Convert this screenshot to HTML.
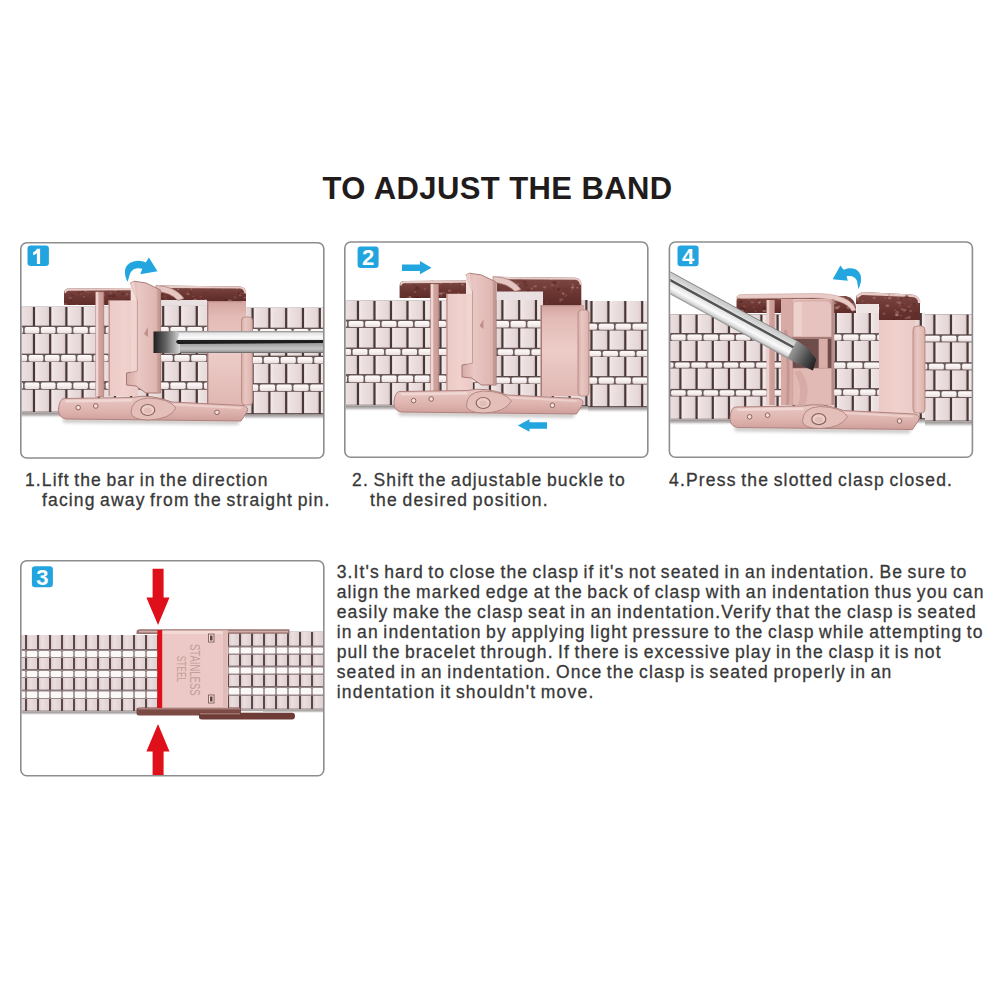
<!DOCTYPE html>
<html><head><meta charset="utf-8">
<style>
html,body{margin:0;padding:0;background:#fff;}
body{width:1000px;height:1000px;position:relative;overflow:hidden;font-family:"Liberation Sans",sans-serif;}
svg{position:absolute;left:0;top:0;}
.t{position:absolute;white-space:nowrap;color:#383838;font-size:17.5px;line-height:20px;word-spacing:-1.5px;-webkit-text-stroke:0.3px #383838;}
.title{position:absolute;white-space:nowrap;color:#221b1b;font-weight:bold;font-size:31px;line-height:34px;letter-spacing:0.41px;left:322.5px;top:171.5px;}
.badge{position:absolute;width:21px;height:21px;border-radius:3px;background:#23a6df;color:#fff;font-weight:bold;font-size:17px;line-height:21px;text-align:center;}
</style></head>
<body>
<svg width="1000" height="1000" viewBox="0 0 1000 1000"><defs>
<linearGradient id="lk" x1="0" x2="1" y1="0" y2="0"><stop offset="0" stop-color="#f4eaea"/><stop offset="0.25" stop-color="#ece0e0"/><stop offset="0.85" stop-color="#e5d7d7"/><stop offset="1" stop-color="#d6c5c5"/></linearGradient>
<linearGradient id="sl" x1="0" x2="0" y1="0" y2="1"><stop offset="0" stop-color="#fdfafa"/><stop offset="0.5" stop-color="#f7f0f0"/><stop offset="1" stop-color="#e9dddd"/></linearGradient>
<linearGradient id="lk3" x1="0" x2="1" y1="0" y2="0"><stop offset="0" stop-color="#d9c8ca"/><stop offset="0.3" stop-color="#ecdfe0"/><stop offset="1" stop-color="#dfd0d1"/></linearGradient>
<linearGradient id="pk" x1="0" x2="1" y1="0" y2="0"><stop offset="0" stop-color="#d7aba6"/><stop offset="0.35" stop-color="#e9c7c3"/><stop offset="0.85" stop-color="#dfb7b2"/><stop offset="1" stop-color="#cfa09b"/></linearGradient>
<linearGradient id="pkf" x1="0" x2="1" y1="0" y2="0"><stop offset="0" stop-color="#ecc9c5"/><stop offset="0.5" stop-color="#f0d1cd"/><stop offset="1" stop-color="#ebcac6"/></linearGradient>
<linearGradient id="pkd" x1="0" x2="1" y1="0" y2="0"><stop offset="0" stop-color="#d9aba6"/><stop offset="1" stop-color="#c99893"/></linearGradient>
<linearGradient id="pkv" x1="0" x2="0" y1="0" y2="1"><stop offset="0" stop-color="#e7c5c1"/><stop offset="0.5" stop-color="#e4bfba"/><stop offset="1" stop-color="#d3a5a0"/></linearGradient>
<linearGradient id="br" x1="0" x2="0" y1="0" y2="1"><stop offset="0" stop-color="#7e4843"/><stop offset="0.6" stop-color="#6a3531"/><stop offset="1" stop-color="#5e2c29"/></linearGradient>
<linearGradient id="sd" x1="0" x2="0" y1="0" y2="1"><stop offset="0" stop-color="#8c8c8c"/><stop offset="0.1" stop-color="#e6e6e6"/><stop offset="0.3" stop-color="#fbfbfb"/><stop offset="0.42" stop-color="#e0e0e0"/><stop offset="0.43" stop-color="#202020"/><stop offset="0.53" stop-color="#2a2a2a"/><stop offset="0.55" stop-color="#9a9a9a"/><stop offset="0.8" stop-color="#c4c4c4"/><stop offset="0.92" stop-color="#a8a8a8"/><stop offset="1" stop-color="#5a5a5a"/></linearGradient>
<linearGradient id="sd4" x1="0" x2="0" y1="0" y2="1"><stop offset="0" stop-color="#6a6a6a"/><stop offset="0.06" stop-color="#c8c8c8"/><stop offset="0.3" stop-color="#dcdcdc"/><stop offset="0.34" stop-color="#505050"/><stop offset="0.42" stop-color="#5a5a5a"/><stop offset="0.46" stop-color="#e4e4e4"/><stop offset="0.7" stop-color="#fafafa"/><stop offset="0.9" stop-color="#d2d2d2"/><stop offset="1" stop-color="#858585"/></linearGradient>
<linearGradient id="tip4" x1="0" x2="1" y1="0" y2="0"><stop offset="0" stop-color="#9a9a9a"/><stop offset="0.6" stop-color="#4a4a4a"/><stop offset="1" stop-color="#1e1e1e"/></linearGradient>
<linearGradient id="tip" x1="0" x2="1" y1="0" y2="0"><stop offset="0" stop-color="#1e1e1e"/><stop offset="0.5" stop-color="#6a6a6a"/><stop offset="1" stop-color="#d8d8d8"/></linearGradient>
<linearGradient id="pkrp" x1="0" x2="0" y1="0" y2="1"><stop offset="0" stop-color="#d4a49f"/><stop offset="0.15" stop-color="#e3bbb6"/><stop offset="0.5" stop-color="#ecccc8"/><stop offset="1" stop-color="#e0b7b2"/></linearGradient>
<linearGradient id="pkv2" x1="0" x2="0" y1="0" y2="1"><stop offset="0" stop-color="#e9c8c4"/><stop offset="0.55" stop-color="#e0b6b1"/><stop offset="1" stop-color="#cf9f9a"/></linearGradient>
<filter id="blur2" x="-10%" y="-100%" width="120%" height="300%"><feGaussianBlur stdDeviation="1.6"/></filter>
<linearGradient id="shd" x1="0" x2="0" y1="0" y2="1"><stop offset="0" stop-color="#8f8787"/><stop offset="0.5" stop-color="#c8c4c4"/><stop offset="1" stop-color="#ffffff" stop-opacity="0"/></linearGradient>
</defs>
<clipPath id="cA21_306"><rect x="21.5" y="306.5" width="138.5" height="106.0"/></clipPath>
<g clip-path="url(#cA21_306)">
<rect x="21.5" y="306.5" width="138.5" height="106.0" fill="#4a3838"/>
<rect x="2.7" y="306.5" width="14.0" height="19.2" fill="url(#lk)"/>
<rect x="18.9" y="306.5" width="14.0" height="19.2" fill="url(#lk)"/>
<rect x="35.1" y="306.5" width="14.0" height="19.2" fill="url(#lk)"/>
<rect x="51.3" y="306.5" width="14.0" height="19.2" fill="url(#lk)"/>
<rect x="67.5" y="306.5" width="14.0" height="19.2" fill="url(#lk)"/>
<rect x="83.7" y="306.5" width="14.0" height="19.2" fill="url(#lk)"/>
<rect x="99.9" y="306.5" width="14.0" height="19.2" fill="url(#lk)"/>
<rect x="116.1" y="306.5" width="14.0" height="19.2" fill="url(#lk)"/>
<rect x="132.3" y="306.5" width="14.0" height="19.2" fill="url(#lk)"/>
<rect x="148.5" y="306.5" width="14.0" height="19.2" fill="url(#lk)"/>
<rect x="164.7" y="306.5" width="14.0" height="19.2" fill="url(#lk)"/>
<rect x="2.7" y="334.0" width="14.0" height="19.7" fill="url(#lk)"/>
<rect x="18.9" y="334.0" width="14.0" height="19.7" fill="url(#lk)"/>
<rect x="35.1" y="334.0" width="14.0" height="19.7" fill="url(#lk)"/>
<rect x="51.3" y="334.0" width="14.0" height="19.7" fill="url(#lk)"/>
<rect x="67.5" y="334.0" width="14.0" height="19.7" fill="url(#lk)"/>
<rect x="83.7" y="334.0" width="14.0" height="19.7" fill="url(#lk)"/>
<rect x="99.9" y="334.0" width="14.0" height="19.7" fill="url(#lk)"/>
<rect x="116.1" y="334.0" width="14.0" height="19.7" fill="url(#lk)"/>
<rect x="132.3" y="334.0" width="14.0" height="19.7" fill="url(#lk)"/>
<rect x="148.5" y="334.0" width="14.0" height="19.7" fill="url(#lk)"/>
<rect x="164.7" y="334.0" width="14.0" height="19.7" fill="url(#lk)"/>
<rect x="2.7" y="362.0" width="14.0" height="19.2" fill="url(#lk)"/>
<rect x="18.9" y="362.0" width="14.0" height="19.2" fill="url(#lk)"/>
<rect x="35.1" y="362.0" width="14.0" height="19.2" fill="url(#lk)"/>
<rect x="51.3" y="362.0" width="14.0" height="19.2" fill="url(#lk)"/>
<rect x="67.5" y="362.0" width="14.0" height="19.2" fill="url(#lk)"/>
<rect x="83.7" y="362.0" width="14.0" height="19.2" fill="url(#lk)"/>
<rect x="99.9" y="362.0" width="14.0" height="19.2" fill="url(#lk)"/>
<rect x="116.1" y="362.0" width="14.0" height="19.2" fill="url(#lk)"/>
<rect x="132.3" y="362.0" width="14.0" height="19.2" fill="url(#lk)"/>
<rect x="148.5" y="362.0" width="14.0" height="19.2" fill="url(#lk)"/>
<rect x="164.7" y="362.0" width="14.0" height="19.2" fill="url(#lk)"/>
<rect x="2.7" y="389.5" width="14.0" height="22.2" fill="url(#lk)"/>
<rect x="18.9" y="389.5" width="14.0" height="22.2" fill="url(#lk)"/>
<rect x="35.1" y="389.5" width="14.0" height="22.2" fill="url(#lk)"/>
<rect x="51.3" y="389.5" width="14.0" height="22.2" fill="url(#lk)"/>
<rect x="67.5" y="389.5" width="14.0" height="22.2" fill="url(#lk)"/>
<rect x="83.7" y="389.5" width="14.0" height="22.2" fill="url(#lk)"/>
<rect x="99.9" y="389.5" width="14.0" height="22.2" fill="url(#lk)"/>
<rect x="116.1" y="389.5" width="14.0" height="22.2" fill="url(#lk)"/>
<rect x="132.3" y="389.5" width="14.0" height="22.2" fill="url(#lk)"/>
<rect x="148.5" y="389.5" width="14.0" height="22.2" fill="url(#lk)"/>
<rect x="164.7" y="389.5" width="14.0" height="22.2" fill="url(#lk)"/>
<rect x="21.5" y="326.2" width="138.5" height="7.8" fill="#6e5c5c"/>
<rect x="-7.7" y="327.1" width="14.6" height="6.3" rx="1.6" fill="url(#sl)"/>
<rect x="8.5" y="327.1" width="14.6" height="6.3" rx="1.6" fill="url(#sl)"/>
<rect x="24.7" y="327.1" width="14.6" height="6.3" rx="1.6" fill="url(#sl)"/>
<rect x="40.9" y="327.1" width="14.6" height="6.3" rx="1.6" fill="url(#sl)"/>
<rect x="57.1" y="327.1" width="14.6" height="6.3" rx="1.6" fill="url(#sl)"/>
<rect x="73.3" y="327.1" width="14.6" height="6.3" rx="1.6" fill="url(#sl)"/>
<rect x="89.5" y="327.1" width="14.6" height="6.3" rx="1.6" fill="url(#sl)"/>
<rect x="105.7" y="327.1" width="14.6" height="6.3" rx="1.6" fill="url(#sl)"/>
<rect x="121.9" y="327.1" width="14.6" height="6.3" rx="1.6" fill="url(#sl)"/>
<rect x="138.1" y="327.1" width="14.6" height="6.3" rx="1.6" fill="url(#sl)"/>
<rect x="154.3" y="327.1" width="14.6" height="6.3" rx="1.6" fill="url(#sl)"/>
<rect x="21.5" y="354.2" width="138.5" height="7.8" fill="#6e5c5c"/>
<rect x="-3.7" y="355.1" width="14.6" height="6.3" rx="1.6" fill="url(#sl)"/>
<rect x="12.5" y="355.1" width="14.6" height="6.3" rx="1.6" fill="url(#sl)"/>
<rect x="28.7" y="355.1" width="14.6" height="6.3" rx="1.6" fill="url(#sl)"/>
<rect x="44.9" y="355.1" width="14.6" height="6.3" rx="1.6" fill="url(#sl)"/>
<rect x="61.1" y="355.1" width="14.6" height="6.3" rx="1.6" fill="url(#sl)"/>
<rect x="77.3" y="355.1" width="14.6" height="6.3" rx="1.6" fill="url(#sl)"/>
<rect x="93.5" y="355.1" width="14.6" height="6.3" rx="1.6" fill="url(#sl)"/>
<rect x="109.7" y="355.1" width="14.6" height="6.3" rx="1.6" fill="url(#sl)"/>
<rect x="125.9" y="355.1" width="14.6" height="6.3" rx="1.6" fill="url(#sl)"/>
<rect x="142.1" y="355.1" width="14.6" height="6.3" rx="1.6" fill="url(#sl)"/>
<rect x="158.3" y="355.1" width="14.6" height="6.3" rx="1.6" fill="url(#sl)"/>
<rect x="21.5" y="381.7" width="138.5" height="7.8" fill="#6e5c5c"/>
<rect x="-7.7" y="382.6" width="14.6" height="6.3" rx="1.6" fill="url(#sl)"/>
<rect x="8.5" y="382.6" width="14.6" height="6.3" rx="1.6" fill="url(#sl)"/>
<rect x="24.7" y="382.6" width="14.6" height="6.3" rx="1.6" fill="url(#sl)"/>
<rect x="40.9" y="382.6" width="14.6" height="6.3" rx="1.6" fill="url(#sl)"/>
<rect x="57.1" y="382.6" width="14.6" height="6.3" rx="1.6" fill="url(#sl)"/>
<rect x="73.3" y="382.6" width="14.6" height="6.3" rx="1.6" fill="url(#sl)"/>
<rect x="89.5" y="382.6" width="14.6" height="6.3" rx="1.6" fill="url(#sl)"/>
<rect x="105.7" y="382.6" width="14.6" height="6.3" rx="1.6" fill="url(#sl)"/>
<rect x="121.9" y="382.6" width="14.6" height="6.3" rx="1.6" fill="url(#sl)"/>
<rect x="138.1" y="382.6" width="14.6" height="6.3" rx="1.6" fill="url(#sl)"/>
<rect x="154.3" y="382.6" width="14.6" height="6.3" rx="1.6" fill="url(#sl)"/>
</g>
<rect x="21.5" y="412.5" width="138.5" height="6" fill="url(#shd)"/>
<clipPath id="cA160_305"><rect x="160.0" y="305.5" width="85.0" height="106.0"/></clipPath>
<g clip-path="url(#cA160_305)">
<rect x="160.0" y="305.5" width="85.0" height="106.0" fill="#4a3838"/>
<rect x="130.7" y="305.5" width="14.6" height="20.2" fill="url(#lk)"/>
<rect x="147.5" y="305.5" width="14.6" height="20.2" fill="url(#lk)"/>
<rect x="164.3" y="305.5" width="14.6" height="20.2" fill="url(#lk)"/>
<rect x="181.1" y="305.5" width="14.6" height="20.2" fill="url(#lk)"/>
<rect x="197.9" y="305.5" width="14.6" height="20.2" fill="url(#lk)"/>
<rect x="214.7" y="305.5" width="14.6" height="20.2" fill="url(#lk)"/>
<rect x="231.5" y="305.5" width="14.6" height="20.2" fill="url(#lk)"/>
<rect x="248.3" y="305.5" width="14.6" height="20.2" fill="url(#lk)"/>
<rect x="130.7" y="334.0" width="14.6" height="19.7" fill="url(#lk)"/>
<rect x="147.5" y="334.0" width="14.6" height="19.7" fill="url(#lk)"/>
<rect x="164.3" y="334.0" width="14.6" height="19.7" fill="url(#lk)"/>
<rect x="181.1" y="334.0" width="14.6" height="19.7" fill="url(#lk)"/>
<rect x="197.9" y="334.0" width="14.6" height="19.7" fill="url(#lk)"/>
<rect x="214.7" y="334.0" width="14.6" height="19.7" fill="url(#lk)"/>
<rect x="231.5" y="334.0" width="14.6" height="19.7" fill="url(#lk)"/>
<rect x="248.3" y="334.0" width="14.6" height="19.7" fill="url(#lk)"/>
<rect x="130.7" y="362.0" width="14.6" height="19.2" fill="url(#lk)"/>
<rect x="147.5" y="362.0" width="14.6" height="19.2" fill="url(#lk)"/>
<rect x="164.3" y="362.0" width="14.6" height="19.2" fill="url(#lk)"/>
<rect x="181.1" y="362.0" width="14.6" height="19.2" fill="url(#lk)"/>
<rect x="197.9" y="362.0" width="14.6" height="19.2" fill="url(#lk)"/>
<rect x="214.7" y="362.0" width="14.6" height="19.2" fill="url(#lk)"/>
<rect x="231.5" y="362.0" width="14.6" height="19.2" fill="url(#lk)"/>
<rect x="248.3" y="362.0" width="14.6" height="19.2" fill="url(#lk)"/>
<rect x="130.7" y="389.5" width="14.6" height="21.2" fill="url(#lk)"/>
<rect x="147.5" y="389.5" width="14.6" height="21.2" fill="url(#lk)"/>
<rect x="164.3" y="389.5" width="14.6" height="21.2" fill="url(#lk)"/>
<rect x="181.1" y="389.5" width="14.6" height="21.2" fill="url(#lk)"/>
<rect x="197.9" y="389.5" width="14.6" height="21.2" fill="url(#lk)"/>
<rect x="214.7" y="389.5" width="14.6" height="21.2" fill="url(#lk)"/>
<rect x="231.5" y="389.5" width="14.6" height="21.2" fill="url(#lk)"/>
<rect x="248.3" y="389.5" width="14.6" height="21.2" fill="url(#lk)"/>
<rect x="160.0" y="326.2" width="85.0" height="7.8" fill="#6e5c5c"/>
<rect x="120.0" y="327.1" width="15.2" height="6.3" rx="1.6" fill="url(#sl)"/>
<rect x="136.8" y="327.1" width="15.2" height="6.3" rx="1.6" fill="url(#sl)"/>
<rect x="153.6" y="327.1" width="15.2" height="6.3" rx="1.6" fill="url(#sl)"/>
<rect x="170.4" y="327.1" width="15.2" height="6.3" rx="1.6" fill="url(#sl)"/>
<rect x="187.2" y="327.1" width="15.2" height="6.3" rx="1.6" fill="url(#sl)"/>
<rect x="204.0" y="327.1" width="15.2" height="6.3" rx="1.6" fill="url(#sl)"/>
<rect x="220.8" y="327.1" width="15.2" height="6.3" rx="1.6" fill="url(#sl)"/>
<rect x="237.6" y="327.1" width="15.2" height="6.3" rx="1.6" fill="url(#sl)"/>
<rect x="160.0" y="354.2" width="85.0" height="7.8" fill="#6e5c5c"/>
<rect x="124.0" y="355.1" width="15.2" height="6.3" rx="1.6" fill="url(#sl)"/>
<rect x="140.8" y="355.1" width="15.2" height="6.3" rx="1.6" fill="url(#sl)"/>
<rect x="157.6" y="355.1" width="15.2" height="6.3" rx="1.6" fill="url(#sl)"/>
<rect x="174.4" y="355.1" width="15.2" height="6.3" rx="1.6" fill="url(#sl)"/>
<rect x="191.2" y="355.1" width="15.2" height="6.3" rx="1.6" fill="url(#sl)"/>
<rect x="208.0" y="355.1" width="15.2" height="6.3" rx="1.6" fill="url(#sl)"/>
<rect x="224.8" y="355.1" width="15.2" height="6.3" rx="1.6" fill="url(#sl)"/>
<rect x="241.6" y="355.1" width="15.2" height="6.3" rx="1.6" fill="url(#sl)"/>
<rect x="160.0" y="381.7" width="85.0" height="7.8" fill="#6e5c5c"/>
<rect x="120.0" y="382.6" width="15.2" height="6.3" rx="1.6" fill="url(#sl)"/>
<rect x="136.8" y="382.6" width="15.2" height="6.3" rx="1.6" fill="url(#sl)"/>
<rect x="153.6" y="382.6" width="15.2" height="6.3" rx="1.6" fill="url(#sl)"/>
<rect x="170.4" y="382.6" width="15.2" height="6.3" rx="1.6" fill="url(#sl)"/>
<rect x="187.2" y="382.6" width="15.2" height="6.3" rx="1.6" fill="url(#sl)"/>
<rect x="204.0" y="382.6" width="15.2" height="6.3" rx="1.6" fill="url(#sl)"/>
<rect x="220.8" y="382.6" width="15.2" height="6.3" rx="1.6" fill="url(#sl)"/>
<rect x="237.6" y="382.6" width="15.2" height="6.3" rx="1.6" fill="url(#sl)"/>
</g>
<rect x="160.0" y="411.5" width="85.0" height="6" fill="url(#shd)"/>
<clipPath id="cA245_307"><rect x="245.0" y="307.5" width="78.0" height="106.5"/></clipPath>
<g clip-path="url(#cA245_307)">
<rect x="245.0" y="307.5" width="78.0" height="106.5" fill="#4a3838"/>
<rect x="220.1" y="307.5" width="14.6" height="20.2" fill="url(#lk)"/>
<rect x="236.9" y="307.5" width="14.6" height="20.2" fill="url(#lk)"/>
<rect x="253.7" y="307.5" width="14.6" height="20.2" fill="url(#lk)"/>
<rect x="270.5" y="307.5" width="14.6" height="20.2" fill="url(#lk)"/>
<rect x="287.3" y="307.5" width="14.6" height="20.2" fill="url(#lk)"/>
<rect x="304.1" y="307.5" width="14.6" height="20.2" fill="url(#lk)"/>
<rect x="320.9" y="307.5" width="14.6" height="20.2" fill="url(#lk)"/>
<rect x="337.7" y="307.5" width="14.6" height="20.2" fill="url(#lk)"/>
<rect x="220.1" y="336.0" width="14.6" height="19.7" fill="url(#lk)"/>
<rect x="236.9" y="336.0" width="14.6" height="19.7" fill="url(#lk)"/>
<rect x="253.7" y="336.0" width="14.6" height="19.7" fill="url(#lk)"/>
<rect x="270.5" y="336.0" width="14.6" height="19.7" fill="url(#lk)"/>
<rect x="287.3" y="336.0" width="14.6" height="19.7" fill="url(#lk)"/>
<rect x="304.1" y="336.0" width="14.6" height="19.7" fill="url(#lk)"/>
<rect x="320.9" y="336.0" width="14.6" height="19.7" fill="url(#lk)"/>
<rect x="337.7" y="336.0" width="14.6" height="19.7" fill="url(#lk)"/>
<rect x="220.1" y="364.0" width="14.6" height="19.2" fill="url(#lk)"/>
<rect x="236.9" y="364.0" width="14.6" height="19.2" fill="url(#lk)"/>
<rect x="253.7" y="364.0" width="14.6" height="19.2" fill="url(#lk)"/>
<rect x="270.5" y="364.0" width="14.6" height="19.2" fill="url(#lk)"/>
<rect x="287.3" y="364.0" width="14.6" height="19.2" fill="url(#lk)"/>
<rect x="304.1" y="364.0" width="14.6" height="19.2" fill="url(#lk)"/>
<rect x="320.9" y="364.0" width="14.6" height="19.2" fill="url(#lk)"/>
<rect x="337.7" y="364.0" width="14.6" height="19.2" fill="url(#lk)"/>
<rect x="220.1" y="391.5" width="14.6" height="21.7" fill="url(#lk)"/>
<rect x="236.9" y="391.5" width="14.6" height="21.7" fill="url(#lk)"/>
<rect x="253.7" y="391.5" width="14.6" height="21.7" fill="url(#lk)"/>
<rect x="270.5" y="391.5" width="14.6" height="21.7" fill="url(#lk)"/>
<rect x="287.3" y="391.5" width="14.6" height="21.7" fill="url(#lk)"/>
<rect x="304.1" y="391.5" width="14.6" height="21.7" fill="url(#lk)"/>
<rect x="320.9" y="391.5" width="14.6" height="21.7" fill="url(#lk)"/>
<rect x="337.7" y="391.5" width="14.6" height="21.7" fill="url(#lk)"/>
<rect x="245.0" y="328.2" width="78.0" height="7.8" fill="#6e5c5c"/>
<rect x="209.4" y="329.1" width="15.2" height="6.3" rx="1.6" fill="url(#sl)"/>
<rect x="226.2" y="329.1" width="15.2" height="6.3" rx="1.6" fill="url(#sl)"/>
<rect x="243.0" y="329.1" width="15.2" height="6.3" rx="1.6" fill="url(#sl)"/>
<rect x="259.8" y="329.1" width="15.2" height="6.3" rx="1.6" fill="url(#sl)"/>
<rect x="276.6" y="329.1" width="15.2" height="6.3" rx="1.6" fill="url(#sl)"/>
<rect x="293.4" y="329.1" width="15.2" height="6.3" rx="1.6" fill="url(#sl)"/>
<rect x="310.2" y="329.1" width="15.2" height="6.3" rx="1.6" fill="url(#sl)"/>
<rect x="327.0" y="329.1" width="15.2" height="6.3" rx="1.6" fill="url(#sl)"/>
<rect x="245.0" y="356.2" width="78.0" height="7.8" fill="#6e5c5c"/>
<rect x="213.4" y="357.1" width="15.2" height="6.3" rx="1.6" fill="url(#sl)"/>
<rect x="230.2" y="357.1" width="15.2" height="6.3" rx="1.6" fill="url(#sl)"/>
<rect x="247.0" y="357.1" width="15.2" height="6.3" rx="1.6" fill="url(#sl)"/>
<rect x="263.8" y="357.1" width="15.2" height="6.3" rx="1.6" fill="url(#sl)"/>
<rect x="280.6" y="357.1" width="15.2" height="6.3" rx="1.6" fill="url(#sl)"/>
<rect x="297.4" y="357.1" width="15.2" height="6.3" rx="1.6" fill="url(#sl)"/>
<rect x="314.2" y="357.1" width="15.2" height="6.3" rx="1.6" fill="url(#sl)"/>
<rect x="331.0" y="357.1" width="15.2" height="6.3" rx="1.6" fill="url(#sl)"/>
<rect x="245.0" y="383.7" width="78.0" height="7.8" fill="#6e5c5c"/>
<rect x="209.4" y="384.6" width="15.2" height="6.3" rx="1.6" fill="url(#sl)"/>
<rect x="226.2" y="384.6" width="15.2" height="6.3" rx="1.6" fill="url(#sl)"/>
<rect x="243.0" y="384.6" width="15.2" height="6.3" rx="1.6" fill="url(#sl)"/>
<rect x="259.8" y="384.6" width="15.2" height="6.3" rx="1.6" fill="url(#sl)"/>
<rect x="276.6" y="384.6" width="15.2" height="6.3" rx="1.6" fill="url(#sl)"/>
<rect x="293.4" y="384.6" width="15.2" height="6.3" rx="1.6" fill="url(#sl)"/>
<rect x="310.2" y="384.6" width="15.2" height="6.3" rx="1.6" fill="url(#sl)"/>
<rect x="327.0" y="384.6" width="15.2" height="6.3" rx="1.6" fill="url(#sl)"/>
</g>
<rect x="245.0" y="414.0" width="78.0" height="6" fill="url(#shd)"/>
<path d="M64,305 L64,293.5 Q64,288.5 69,288.5 L131,288.0 L131,305 Z" fill="url(#br)"/>
<clipPath id="ml64"><path d="M64,305 L64,293.5 Q64,288.5 69,288.5 L131,288.0 L131,305 Z"/></clipPath><g clip-path="url(#ml64)"><ellipse cx="85.7" cy="291.0" rx="1.6" ry="1.1" fill="#a86f69" opacity="0.54"/><ellipse cx="70.3" cy="298.1" rx="2.1" ry="1.4" fill="#b98883" opacity="0.26"/><ellipse cx="93.1" cy="289.7" rx="0.7" ry="0.5" fill="#c9a09b" opacity="0.27"/><ellipse cx="101.9" cy="304.1" rx="1.6" ry="1.1" fill="#4e1e1c" opacity="0.58"/><ellipse cx="102.7" cy="295.0" rx="2.2" ry="1.5" fill="#a86f69" opacity="0.44"/><ellipse cx="72.9" cy="295.4" rx="1.5" ry="1.0" fill="#4e1e1c" opacity="0.36"/><ellipse cx="118.7" cy="291.5" rx="1.5" ry="1.1" fill="#4e1e1c" opacity="0.32"/><ellipse cx="70.5" cy="300.2" rx="1.5" ry="1.1" fill="#4e1e1c" opacity="0.32"/><ellipse cx="109.6" cy="295.6" rx="1.1" ry="0.8" fill="#4e1e1c" opacity="0.57"/><ellipse cx="88.2" cy="292.6" rx="0.9" ry="0.6" fill="#b98883" opacity="0.28"/><ellipse cx="84.1" cy="296.7" rx="1.1" ry="0.8" fill="#c9a09b" opacity="0.35"/><ellipse cx="129.7" cy="290.4" rx="1.3" ry="0.9" fill="#8e5550" opacity="0.30"/><ellipse cx="96.8" cy="289.1" rx="1.7" ry="1.2" fill="#4e1e1c" opacity="0.45"/><ellipse cx="122.7" cy="293.7" rx="1.7" ry="1.2" fill="#4e1e1c" opacity="0.42"/><ellipse cx="117.4" cy="289.6" rx="0.7" ry="0.5" fill="#8e5550" opacity="0.42"/><ellipse cx="108.5" cy="289.5" rx="1.7" ry="1.2" fill="#4e1e1c" opacity="0.45"/><ellipse cx="109.6" cy="295.9" rx="1.7" ry="1.2" fill="#4e1e1c" opacity="0.37"/><ellipse cx="127.0" cy="294.4" rx="1.6" ry="1.1" fill="#c9a09b" opacity="0.27"/><ellipse cx="115.5" cy="290.6" rx="1.0" ry="0.7" fill="#c9a09b" opacity="0.57"/><ellipse cx="97.3" cy="291.2" rx="1.2" ry="0.9" fill="#8e5550" opacity="0.56"/><ellipse cx="118.9" cy="302.8" rx="1.0" ry="0.7" fill="#c9a09b" opacity="0.60"/><ellipse cx="109.7" cy="294.8" rx="1.0" ry="0.7" fill="#a86f69" opacity="0.31"/><ellipse cx="79.5" cy="292.4" rx="1.4" ry="1.0" fill="#4e1e1c" opacity="0.31"/><ellipse cx="82.9" cy="290.9" rx="1.5" ry="1.0" fill="#4e1e1c" opacity="0.45"/><ellipse cx="127.9" cy="299.9" rx="1.4" ry="1.0" fill="#4e1e1c" opacity="0.48"/><ellipse cx="113.6" cy="296.0" rx="2.0" ry="1.4" fill="#4e1e1c" opacity="0.53"/><ellipse cx="90.3" cy="295.1" rx="0.8" ry="0.5" fill="#4e1e1c" opacity="0.39"/><ellipse cx="76.8" cy="304.7" rx="1.3" ry="0.9" fill="#a86f69" opacity="0.37"/><ellipse cx="67.5" cy="288.5" rx="0.8" ry="0.6" fill="#a86f69" opacity="0.58"/><ellipse cx="105.1" cy="289.7" rx="0.9" ry="0.7" fill="#c9a09b" opacity="0.30"/><ellipse cx="80.9" cy="294.2" rx="1.2" ry="0.8" fill="#a86f69" opacity="0.29"/><ellipse cx="96.7" cy="304.6" rx="1.4" ry="1.0" fill="#8e5550" opacity="0.28"/><ellipse cx="70.8" cy="294.2" rx="1.0" ry="0.7" fill="#4e1e1c" opacity="0.31"/><ellipse cx="65.5" cy="304.2" rx="1.4" ry="1.0" fill="#b98883" opacity="0.49"/><ellipse cx="125.2" cy="301.0" rx="1.1" ry="0.8" fill="#4e1e1c" opacity="0.55"/><ellipse cx="110.6" cy="292.8" rx="1.2" ry="0.8" fill="#b98883" opacity="0.37"/></g>
<path d="M64.5,292.5 Q64.5,288.5 69,288.5 L131,288.0 L131,290.3 L69,290.8 Q66,291.0 65.8,293.5 Z" fill="#e6cbc7"/>
<path d="M160,300 L160,285.5 L240,286.5 Q246,287.0 246,293.5 L246,301 L207,301 L207,300 Z" fill="url(#br)"/>
<clipPath id="mr160"><path d="M160,300 L160,285.5 L240,286.5 Q246,287.0 246,293.5 L246,301 L207,301 L207,300 Z"/></clipPath><g clip-path="url(#mr160)"><ellipse cx="179.2" cy="293.9" rx="1.4" ry="1.0" fill="#4e1e1c" opacity="0.33"/><ellipse cx="229.8" cy="300.8" rx="2.0" ry="1.4" fill="#b98883" opacity="0.54"/><ellipse cx="223.6" cy="289.0" rx="1.4" ry="1.0" fill="#8e5550" opacity="0.51"/><ellipse cx="245.1" cy="297.7" rx="1.4" ry="0.9" fill="#b98883" opacity="0.49"/><ellipse cx="242.3" cy="292.4" rx="2.1" ry="1.5" fill="#8e5550" opacity="0.58"/><ellipse cx="191.4" cy="288.9" rx="1.0" ry="0.7" fill="#b98883" opacity="0.37"/><ellipse cx="201.5" cy="300.8" rx="1.6" ry="1.1" fill="#a86f69" opacity="0.42"/><ellipse cx="216.2" cy="297.9" rx="0.7" ry="0.5" fill="#4e1e1c" opacity="0.29"/><ellipse cx="193.4" cy="296.5" rx="0.9" ry="0.6" fill="#b98883" opacity="0.40"/><ellipse cx="214.7" cy="286.8" rx="2.1" ry="1.5" fill="#4e1e1c" opacity="0.39"/><ellipse cx="194.5" cy="300.2" rx="1.8" ry="1.2" fill="#b98883" opacity="0.60"/><ellipse cx="162.4" cy="294.7" rx="1.3" ry="0.9" fill="#4e1e1c" opacity="0.30"/><ellipse cx="231.1" cy="300.7" rx="1.7" ry="1.2" fill="#8e5550" opacity="0.30"/><ellipse cx="207.2" cy="285.8" rx="1.9" ry="1.3" fill="#4e1e1c" opacity="0.48"/><ellipse cx="205.3" cy="300.0" rx="1.3" ry="0.9" fill="#b98883" opacity="0.54"/><ellipse cx="178.1" cy="289.4" rx="1.1" ry="0.7" fill="#b98883" opacity="0.52"/><ellipse cx="188.0" cy="293.9" rx="1.9" ry="1.4" fill="#a86f69" opacity="0.57"/><ellipse cx="190.4" cy="292.6" rx="1.5" ry="1.1" fill="#4e1e1c" opacity="0.40"/><ellipse cx="238.9" cy="293.3" rx="1.5" ry="1.0" fill="#4e1e1c" opacity="0.43"/><ellipse cx="235.1" cy="297.5" rx="1.6" ry="1.1" fill="#b98883" opacity="0.31"/><ellipse cx="200.7" cy="296.7" rx="1.5" ry="1.0" fill="#8e5550" opacity="0.49"/><ellipse cx="205.6" cy="293.0" rx="1.8" ry="1.3" fill="#4e1e1c" opacity="0.27"/><ellipse cx="176.5" cy="286.2" rx="0.8" ry="0.5" fill="#c9a09b" opacity="0.45"/><ellipse cx="225.4" cy="299.6" rx="1.3" ry="0.9" fill="#4e1e1c" opacity="0.59"/><ellipse cx="212.1" cy="288.6" rx="1.0" ry="0.7" fill="#4e1e1c" opacity="0.44"/><ellipse cx="201.1" cy="300.1" rx="1.7" ry="1.2" fill="#8e5550" opacity="0.57"/><ellipse cx="236.8" cy="288.6" rx="1.3" ry="0.9" fill="#c9a09b" opacity="0.29"/><ellipse cx="198.0" cy="286.6" rx="1.0" ry="0.7" fill="#a86f69" opacity="0.32"/><ellipse cx="186.0" cy="287.4" rx="1.8" ry="1.3" fill="#4e1e1c" opacity="0.48"/><ellipse cx="191.5" cy="289.4" rx="0.8" ry="0.6" fill="#c9a09b" opacity="0.33"/><ellipse cx="241.9" cy="291.7" rx="1.4" ry="1.0" fill="#4e1e1c" opacity="0.54"/><ellipse cx="173.9" cy="292.2" rx="1.4" ry="1.0" fill="#8e5550" opacity="0.40"/><ellipse cx="190.7" cy="286.9" rx="1.2" ry="0.8" fill="#8e5550" opacity="0.44"/><ellipse cx="197.9" cy="285.8" rx="1.1" ry="0.8" fill="#4e1e1c" opacity="0.35"/><ellipse cx="242.6" cy="287.2" rx="2.1" ry="1.4" fill="#b98883" opacity="0.59"/><ellipse cx="169.0" cy="289.6" rx="0.7" ry="0.5" fill="#b98883" opacity="0.34"/><ellipse cx="171.1" cy="292.0" rx="2.1" ry="1.4" fill="#8e5550" opacity="0.39"/><ellipse cx="206.1" cy="293.5" rx="1.4" ry="1.0" fill="#8e5550" opacity="0.28"/><ellipse cx="164.9" cy="296.2" rx="1.3" ry="0.9" fill="#a86f69" opacity="0.34"/><ellipse cx="161.4" cy="286.9" rx="1.0" ry="0.7" fill="#4e1e1c" opacity="0.55"/><ellipse cx="165.7" cy="298.9" rx="1.3" ry="0.9" fill="#8e5550" opacity="0.60"/><ellipse cx="195.9" cy="299.7" rx="1.6" ry="1.1" fill="#a86f69" opacity="0.43"/><ellipse cx="180.5" cy="287.2" rx="0.9" ry="0.6" fill="#a86f69" opacity="0.31"/><ellipse cx="240.2" cy="295.2" rx="1.4" ry="1.0" fill="#b98883" opacity="0.35"/></g>
<path d="M160,285.5 L240,286.5 Q246,287.0 246.5,293.5 L244.5,293.5 Q244,289.0 240,288.5 L160,288.0 Z" fill="#e6cbc7"/>
<rect x="160" y="300" width="47.0" height="5.5" fill="#e9e1e1"/>
<path d="M156,285.5 Q175,286 184,298.5 L178,300.5 Q170,292 156,291.5 Z" fill="#e6c6c2" stroke="#a97b76" stroke-width="0.7"/>
<rect x="95.8" y="292" width="8.0" height="104.5" fill="url(#pkd)" stroke="#a97c77" stroke-width="0.7"/>
<rect x="95.8" y="292" width="2.5" height="104.5" fill="#efd6d2"/>
<rect x="108.6" y="300.4" width="29.6" height="95.6" fill="url(#pkf)"/>
<rect x="108.6" y="300.4" width="1.2" height="95.6" fill="#b88c87"/>
<path d="M130.5,283.0 L134.0,281.2 L146.0,283.0 L160.6,290.0 L160.6,393.0 L146.0,393.0 L136.0,386.0 L126.5,385.0 L126.5,373.0 L137.0,371.0 L137.0,300.0 Z" fill="url(#pk)" stroke="#a2736e" stroke-width="0.9"/>
<path d="M130.5,283.0 L134.0,281.2 L137.0,300.0 L137.0,371.0 L131.0,372.0 Z" fill="#f0d6d2" opacity="0.8"/>
<path d="M157.5,290.0 L160.6,290.0 L160.6,393.0 L157.5,393.0 Z" fill="#c09590" opacity="0.8"/>
<path d="M144.0,334.0 L148.0,327.0 L148.0,337.0 Z" fill="#c18f8a"/>
<rect x="207" y="301" width="39.0" height="104.0" fill="url(#pkrp)"/>
<rect x="207" y="301" width="1.4" height="104.0" fill="#a87a75"/>
<rect x="207" y="301" width="35.0" height="1.2" fill="#b9918c"/>
<rect x="241.5" y="317" width="11" height="88.0" rx="3.5" fill="url(#pk)" stroke="#b98a85" stroke-width="0.9"/>
<path d="M62.0,418.0 L240.0,420.0 L238.0,425.0 L64.0,423.0 Z" fill="#9a9090" opacity="0.45" filter="url(#blur2)"/>
<path d="M64.0,398.5 L132.0,397.5 Q150.0,393.5 172.0,402.0 L243.0,405.5 Q249.5,407.0 247.0,412.0 L241.0,421.0 L66.0,419.0 Q58.0,417.5 58.5,409.0 Q59.5,399.0 64.0,398.5 Z" fill="url(#pkv2)" stroke="#a97b76" stroke-width="0.9"/>
<path d="M65.0,400.0 L132.0,399.0 L132.0,401.5 L66.0,402.5 Z" fill="#f3dcd8" opacity="0.8"/>
<path d="M172.0,403.5 L242.0,407.0 L241.0,409.0 L172.0,405.5 Z" fill="#f1d8d4" opacity="0.7"/>
<path d="M131.0,413.0 Q131.0,399.0 148.0,398.0 Q170.0,398.5 176.0,408.0 Q170.0,419.5 148.0,420.0 Q132.0,419.5 131.0,413.0 Z" fill="#e4bfba" stroke="#a87a75" stroke-width="0.8"/>
<ellipse cx="147.8" cy="410.0" rx="7" ry="5.5" fill="#ecd0cc" stroke="#8f625d" stroke-width="1.2"/>
<ellipse cx="147.8" cy="410.5" rx="4" ry="3" fill="#e2bcb7"/>
<circle cx="78.2" cy="407.6" r="2.3" fill="#f3dedb" stroke="#8f645f" stroke-width="1"/>
<circle cx="95.8" cy="406.0" r="2.3" fill="#f3dedb" stroke="#8f645f" stroke-width="1"/>
<circle cx="217.0" cy="412.3" r="2.3" fill="#f3dedb" stroke="#8f645f" stroke-width="1"/>
<rect x="170" y="331" width="153" height="22" fill="url(#sd)"/>
<path d="M153.5,331.5 L176,331 Q181,332 178,338 L176,342 L180,344 L180,353 L153.5,353 Z" fill="url(#tip)"/>
<path d="M176,342 L323,340.5 L323,343 L178,344 Z" fill="#1c1c1c"/>
<path d="M127.6,281.8 C123.5,273 123.5,264.5 133.5,261.5 C138.5,260.2 142.5,261 145.8,262.6 L148.9,257.6 L157.5,271.2 L140.3,274.2 L142.3,268.8 C137,267.3 131.5,268.6 129.6,275 Z" fill="#23a6df"/>
<clipPath id="cA345_300"><rect x="345.5" y="300.4" width="154.5" height="105.2"/></clipPath>
<g clip-path="url(#cA345_300)">
<rect x="345.5" y="300.4" width="154.5" height="105.2" fill="#4a3838"/>
<rect x="326.1" y="300.4" width="14.3" height="19.3" fill="url(#lk)"/>
<rect x="342.6" y="300.4" width="14.3" height="19.3" fill="url(#lk)"/>
<rect x="359.1" y="300.4" width="14.3" height="19.3" fill="url(#lk)"/>
<rect x="375.6" y="300.4" width="14.3" height="19.3" fill="url(#lk)"/>
<rect x="392.1" y="300.4" width="14.3" height="19.3" fill="url(#lk)"/>
<rect x="408.6" y="300.4" width="14.3" height="19.3" fill="url(#lk)"/>
<rect x="425.1" y="300.4" width="14.3" height="19.3" fill="url(#lk)"/>
<rect x="441.6" y="300.4" width="14.3" height="19.3" fill="url(#lk)"/>
<rect x="458.1" y="300.4" width="14.3" height="19.3" fill="url(#lk)"/>
<rect x="474.6" y="300.4" width="14.3" height="19.3" fill="url(#lk)"/>
<rect x="491.1" y="300.4" width="14.3" height="19.3" fill="url(#lk)"/>
<rect x="507.6" y="300.4" width="14.3" height="19.3" fill="url(#lk)"/>
<rect x="326.1" y="327.7" width="14.3" height="19.9" fill="url(#lk)"/>
<rect x="342.6" y="327.7" width="14.3" height="19.9" fill="url(#lk)"/>
<rect x="359.1" y="327.7" width="14.3" height="19.9" fill="url(#lk)"/>
<rect x="375.6" y="327.7" width="14.3" height="19.9" fill="url(#lk)"/>
<rect x="392.1" y="327.7" width="14.3" height="19.9" fill="url(#lk)"/>
<rect x="408.6" y="327.7" width="14.3" height="19.9" fill="url(#lk)"/>
<rect x="425.1" y="327.7" width="14.3" height="19.9" fill="url(#lk)"/>
<rect x="441.6" y="327.7" width="14.3" height="19.9" fill="url(#lk)"/>
<rect x="458.1" y="327.7" width="14.3" height="19.9" fill="url(#lk)"/>
<rect x="474.6" y="327.7" width="14.3" height="19.9" fill="url(#lk)"/>
<rect x="491.1" y="327.7" width="14.3" height="19.9" fill="url(#lk)"/>
<rect x="507.6" y="327.7" width="14.3" height="19.9" fill="url(#lk)"/>
<rect x="326.1" y="355.6" width="14.3" height="18.6" fill="url(#lk)"/>
<rect x="342.6" y="355.6" width="14.3" height="18.6" fill="url(#lk)"/>
<rect x="359.1" y="355.6" width="14.3" height="18.6" fill="url(#lk)"/>
<rect x="375.6" y="355.6" width="14.3" height="18.6" fill="url(#lk)"/>
<rect x="392.1" y="355.6" width="14.3" height="18.6" fill="url(#lk)"/>
<rect x="408.6" y="355.6" width="14.3" height="18.6" fill="url(#lk)"/>
<rect x="425.1" y="355.6" width="14.3" height="18.6" fill="url(#lk)"/>
<rect x="441.6" y="355.6" width="14.3" height="18.6" fill="url(#lk)"/>
<rect x="458.1" y="355.6" width="14.3" height="18.6" fill="url(#lk)"/>
<rect x="474.6" y="355.6" width="14.3" height="18.6" fill="url(#lk)"/>
<rect x="491.1" y="355.6" width="14.3" height="18.6" fill="url(#lk)"/>
<rect x="507.6" y="355.6" width="14.3" height="18.6" fill="url(#lk)"/>
<rect x="326.1" y="382.9" width="14.3" height="21.9" fill="url(#lk)"/>
<rect x="342.6" y="382.9" width="14.3" height="21.9" fill="url(#lk)"/>
<rect x="359.1" y="382.9" width="14.3" height="21.9" fill="url(#lk)"/>
<rect x="375.6" y="382.9" width="14.3" height="21.9" fill="url(#lk)"/>
<rect x="392.1" y="382.9" width="14.3" height="21.9" fill="url(#lk)"/>
<rect x="408.6" y="382.9" width="14.3" height="21.9" fill="url(#lk)"/>
<rect x="425.1" y="382.9" width="14.3" height="21.9" fill="url(#lk)"/>
<rect x="441.6" y="382.9" width="14.3" height="21.9" fill="url(#lk)"/>
<rect x="458.1" y="382.9" width="14.3" height="21.9" fill="url(#lk)"/>
<rect x="474.6" y="382.9" width="14.3" height="21.9" fill="url(#lk)"/>
<rect x="491.1" y="382.9" width="14.3" height="21.9" fill="url(#lk)"/>
<rect x="507.6" y="382.9" width="14.3" height="21.9" fill="url(#lk)"/>
<rect x="345.5" y="320.2" width="154.5" height="7.5" fill="#6e5c5c"/>
<rect x="315.6" y="321.1" width="14.9" height="6.0" rx="1.6" fill="url(#sl)"/>
<rect x="332.1" y="321.1" width="14.9" height="6.0" rx="1.6" fill="url(#sl)"/>
<rect x="348.6" y="321.1" width="14.9" height="6.0" rx="1.6" fill="url(#sl)"/>
<rect x="365.1" y="321.1" width="14.9" height="6.0" rx="1.6" fill="url(#sl)"/>
<rect x="381.6" y="321.1" width="14.9" height="6.0" rx="1.6" fill="url(#sl)"/>
<rect x="398.1" y="321.1" width="14.9" height="6.0" rx="1.6" fill="url(#sl)"/>
<rect x="414.6" y="321.1" width="14.9" height="6.0" rx="1.6" fill="url(#sl)"/>
<rect x="431.1" y="321.1" width="14.9" height="6.0" rx="1.6" fill="url(#sl)"/>
<rect x="447.6" y="321.1" width="14.9" height="6.0" rx="1.6" fill="url(#sl)"/>
<rect x="464.1" y="321.1" width="14.9" height="6.0" rx="1.6" fill="url(#sl)"/>
<rect x="480.6" y="321.1" width="14.9" height="6.0" rx="1.6" fill="url(#sl)"/>
<rect x="497.1" y="321.1" width="14.9" height="6.0" rx="1.6" fill="url(#sl)"/>
<rect x="345.5" y="348.1" width="154.5" height="7.5" fill="#6e5c5c"/>
<rect x="319.6" y="349.0" width="14.9" height="6.0" rx="1.6" fill="url(#sl)"/>
<rect x="336.1" y="349.0" width="14.9" height="6.0" rx="1.6" fill="url(#sl)"/>
<rect x="352.6" y="349.0" width="14.9" height="6.0" rx="1.6" fill="url(#sl)"/>
<rect x="369.1" y="349.0" width="14.9" height="6.0" rx="1.6" fill="url(#sl)"/>
<rect x="385.6" y="349.0" width="14.9" height="6.0" rx="1.6" fill="url(#sl)"/>
<rect x="402.1" y="349.0" width="14.9" height="6.0" rx="1.6" fill="url(#sl)"/>
<rect x="418.6" y="349.0" width="14.9" height="6.0" rx="1.6" fill="url(#sl)"/>
<rect x="435.1" y="349.0" width="14.9" height="6.0" rx="1.6" fill="url(#sl)"/>
<rect x="451.6" y="349.0" width="14.9" height="6.0" rx="1.6" fill="url(#sl)"/>
<rect x="468.1" y="349.0" width="14.9" height="6.0" rx="1.6" fill="url(#sl)"/>
<rect x="484.6" y="349.0" width="14.9" height="6.0" rx="1.6" fill="url(#sl)"/>
<rect x="501.1" y="349.0" width="14.9" height="6.0" rx="1.6" fill="url(#sl)"/>
<rect x="345.5" y="374.7" width="154.5" height="8.2" fill="#6e5c5c"/>
<rect x="315.6" y="375.6" width="14.9" height="6.7" rx="1.6" fill="url(#sl)"/>
<rect x="332.1" y="375.6" width="14.9" height="6.7" rx="1.6" fill="url(#sl)"/>
<rect x="348.6" y="375.6" width="14.9" height="6.7" rx="1.6" fill="url(#sl)"/>
<rect x="365.1" y="375.6" width="14.9" height="6.7" rx="1.6" fill="url(#sl)"/>
<rect x="381.6" y="375.6" width="14.9" height="6.7" rx="1.6" fill="url(#sl)"/>
<rect x="398.1" y="375.6" width="14.9" height="6.7" rx="1.6" fill="url(#sl)"/>
<rect x="414.6" y="375.6" width="14.9" height="6.7" rx="1.6" fill="url(#sl)"/>
<rect x="431.1" y="375.6" width="14.9" height="6.7" rx="1.6" fill="url(#sl)"/>
<rect x="447.6" y="375.6" width="14.9" height="6.7" rx="1.6" fill="url(#sl)"/>
<rect x="464.1" y="375.6" width="14.9" height="6.7" rx="1.6" fill="url(#sl)"/>
<rect x="480.6" y="375.6" width="14.9" height="6.7" rx="1.6" fill="url(#sl)"/>
<rect x="497.1" y="375.6" width="14.9" height="6.7" rx="1.6" fill="url(#sl)"/>
</g>
<rect x="345.5" y="405.6" width="154.5" height="6" fill="url(#shd)"/>
<clipPath id="cA496_300"><rect x="496.0" y="300.0" width="92.0" height="106.0"/></clipPath>
<g clip-path="url(#cA496_300)">
<rect x="496.0" y="300.0" width="92.0" height="106.0" fill="#4a3838"/>
<rect x="469.9" y="300.0" width="14.6" height="19.6" fill="url(#lk)"/>
<rect x="486.7" y="300.0" width="14.6" height="19.6" fill="url(#lk)"/>
<rect x="503.5" y="300.0" width="14.6" height="19.6" fill="url(#lk)"/>
<rect x="520.3" y="300.0" width="14.6" height="19.6" fill="url(#lk)"/>
<rect x="537.1" y="300.0" width="14.6" height="19.6" fill="url(#lk)"/>
<rect x="553.9" y="300.0" width="14.6" height="19.6" fill="url(#lk)"/>
<rect x="570.7" y="300.0" width="14.6" height="19.6" fill="url(#lk)"/>
<rect x="587.5" y="300.0" width="14.6" height="19.6" fill="url(#lk)"/>
<rect x="604.3" y="300.0" width="14.6" height="19.6" fill="url(#lk)"/>
<rect x="469.9" y="328.2" width="14.6" height="19.6" fill="url(#lk)"/>
<rect x="486.7" y="328.2" width="14.6" height="19.6" fill="url(#lk)"/>
<rect x="503.5" y="328.2" width="14.6" height="19.6" fill="url(#lk)"/>
<rect x="520.3" y="328.2" width="14.6" height="19.6" fill="url(#lk)"/>
<rect x="537.1" y="328.2" width="14.6" height="19.6" fill="url(#lk)"/>
<rect x="553.9" y="328.2" width="14.6" height="19.6" fill="url(#lk)"/>
<rect x="570.7" y="328.2" width="14.6" height="19.6" fill="url(#lk)"/>
<rect x="587.5" y="328.2" width="14.6" height="19.6" fill="url(#lk)"/>
<rect x="604.3" y="328.2" width="14.6" height="19.6" fill="url(#lk)"/>
<rect x="469.9" y="355.8" width="14.6" height="20.2" fill="url(#lk)"/>
<rect x="486.7" y="355.8" width="14.6" height="20.2" fill="url(#lk)"/>
<rect x="503.5" y="355.8" width="14.6" height="20.2" fill="url(#lk)"/>
<rect x="520.3" y="355.8" width="14.6" height="20.2" fill="url(#lk)"/>
<rect x="537.1" y="355.8" width="14.6" height="20.2" fill="url(#lk)"/>
<rect x="553.9" y="355.8" width="14.6" height="20.2" fill="url(#lk)"/>
<rect x="570.7" y="355.8" width="14.6" height="20.2" fill="url(#lk)"/>
<rect x="587.5" y="355.8" width="14.6" height="20.2" fill="url(#lk)"/>
<rect x="604.3" y="355.8" width="14.6" height="20.2" fill="url(#lk)"/>
<rect x="469.9" y="384.0" width="14.6" height="21.2" fill="url(#lk)"/>
<rect x="486.7" y="384.0" width="14.6" height="21.2" fill="url(#lk)"/>
<rect x="503.5" y="384.0" width="14.6" height="21.2" fill="url(#lk)"/>
<rect x="520.3" y="384.0" width="14.6" height="21.2" fill="url(#lk)"/>
<rect x="537.1" y="384.0" width="14.6" height="21.2" fill="url(#lk)"/>
<rect x="553.9" y="384.0" width="14.6" height="21.2" fill="url(#lk)"/>
<rect x="570.7" y="384.0" width="14.6" height="21.2" fill="url(#lk)"/>
<rect x="587.5" y="384.0" width="14.6" height="21.2" fill="url(#lk)"/>
<rect x="604.3" y="384.0" width="14.6" height="21.2" fill="url(#lk)"/>
<rect x="496.0" y="320.1" width="92.0" height="8.1" fill="#6e5c5c"/>
<rect x="460.2" y="321.0" width="15.2" height="6.6" rx="1.6" fill="url(#sl)"/>
<rect x="477.0" y="321.0" width="15.2" height="6.6" rx="1.6" fill="url(#sl)"/>
<rect x="493.8" y="321.0" width="15.2" height="6.6" rx="1.6" fill="url(#sl)"/>
<rect x="510.6" y="321.0" width="15.2" height="6.6" rx="1.6" fill="url(#sl)"/>
<rect x="527.4" y="321.0" width="15.2" height="6.6" rx="1.6" fill="url(#sl)"/>
<rect x="544.2" y="321.0" width="15.2" height="6.6" rx="1.6" fill="url(#sl)"/>
<rect x="561.0" y="321.0" width="15.2" height="6.6" rx="1.6" fill="url(#sl)"/>
<rect x="577.8" y="321.0" width="15.2" height="6.6" rx="1.6" fill="url(#sl)"/>
<rect x="594.6" y="321.0" width="15.2" height="6.6" rx="1.6" fill="url(#sl)"/>
<rect x="496.0" y="348.3" width="92.0" height="7.5" fill="#6e5c5c"/>
<rect x="464.2" y="349.2" width="15.2" height="6.0" rx="1.6" fill="url(#sl)"/>
<rect x="481.0" y="349.2" width="15.2" height="6.0" rx="1.6" fill="url(#sl)"/>
<rect x="497.8" y="349.2" width="15.2" height="6.0" rx="1.6" fill="url(#sl)"/>
<rect x="514.6" y="349.2" width="15.2" height="6.0" rx="1.6" fill="url(#sl)"/>
<rect x="531.4" y="349.2" width="15.2" height="6.0" rx="1.6" fill="url(#sl)"/>
<rect x="548.2" y="349.2" width="15.2" height="6.0" rx="1.6" fill="url(#sl)"/>
<rect x="565.0" y="349.2" width="15.2" height="6.0" rx="1.6" fill="url(#sl)"/>
<rect x="581.8" y="349.2" width="15.2" height="6.0" rx="1.6" fill="url(#sl)"/>
<rect x="598.6" y="349.2" width="15.2" height="6.0" rx="1.6" fill="url(#sl)"/>
<rect x="496.0" y="376.5" width="92.0" height="7.5" fill="#6e5c5c"/>
<rect x="461.2" y="377.4" width="15.2" height="6.0" rx="1.6" fill="url(#sl)"/>
<rect x="478.0" y="377.4" width="15.2" height="6.0" rx="1.6" fill="url(#sl)"/>
<rect x="494.8" y="377.4" width="15.2" height="6.0" rx="1.6" fill="url(#sl)"/>
<rect x="511.6" y="377.4" width="15.2" height="6.0" rx="1.6" fill="url(#sl)"/>
<rect x="528.4" y="377.4" width="15.2" height="6.0" rx="1.6" fill="url(#sl)"/>
<rect x="545.2" y="377.4" width="15.2" height="6.0" rx="1.6" fill="url(#sl)"/>
<rect x="562.0" y="377.4" width="15.2" height="6.0" rx="1.6" fill="url(#sl)"/>
<rect x="578.8" y="377.4" width="15.2" height="6.0" rx="1.6" fill="url(#sl)"/>
<rect x="595.6" y="377.4" width="15.2" height="6.0" rx="1.6" fill="url(#sl)"/>
</g>
<rect x="496.0" y="406.0" width="92.0" height="6" fill="url(#shd)"/>
<clipPath id="cA588_301"><rect x="588.0" y="301.0" width="59.2" height="106.0"/></clipPath>
<g clip-path="url(#cA588_301)">
<rect x="588.0" y="301.0" width="59.2" height="106.0" fill="#4a3838"/>
<rect x="558.8" y="301.0" width="14.7" height="21.4" fill="url(#lk)"/>
<rect x="575.7" y="301.0" width="14.7" height="21.4" fill="url(#lk)"/>
<rect x="592.6" y="301.0" width="14.7" height="21.4" fill="url(#lk)"/>
<rect x="609.5" y="301.0" width="14.7" height="21.4" fill="url(#lk)"/>
<rect x="626.4" y="301.0" width="14.7" height="21.4" fill="url(#lk)"/>
<rect x="643.3" y="301.0" width="14.7" height="21.4" fill="url(#lk)"/>
<rect x="660.2" y="301.0" width="14.7" height="21.4" fill="url(#lk)"/>
<rect x="558.8" y="330.3" width="14.7" height="19.4" fill="url(#lk)"/>
<rect x="575.7" y="330.3" width="14.7" height="19.4" fill="url(#lk)"/>
<rect x="592.6" y="330.3" width="14.7" height="19.4" fill="url(#lk)"/>
<rect x="609.5" y="330.3" width="14.7" height="19.4" fill="url(#lk)"/>
<rect x="626.4" y="330.3" width="14.7" height="19.4" fill="url(#lk)"/>
<rect x="643.3" y="330.3" width="14.7" height="19.4" fill="url(#lk)"/>
<rect x="660.2" y="330.3" width="14.7" height="19.4" fill="url(#lk)"/>
<rect x="558.8" y="357.0" width="14.7" height="19.2" fill="url(#lk)"/>
<rect x="575.7" y="357.0" width="14.7" height="19.2" fill="url(#lk)"/>
<rect x="592.6" y="357.0" width="14.7" height="19.2" fill="url(#lk)"/>
<rect x="609.5" y="357.0" width="14.7" height="19.2" fill="url(#lk)"/>
<rect x="626.4" y="357.0" width="14.7" height="19.2" fill="url(#lk)"/>
<rect x="643.3" y="357.0" width="14.7" height="19.2" fill="url(#lk)"/>
<rect x="660.2" y="357.0" width="14.7" height="19.2" fill="url(#lk)"/>
<rect x="558.8" y="384.3" width="14.7" height="21.9" fill="url(#lk)"/>
<rect x="575.7" y="384.3" width="14.7" height="21.9" fill="url(#lk)"/>
<rect x="592.6" y="384.3" width="14.7" height="21.9" fill="url(#lk)"/>
<rect x="609.5" y="384.3" width="14.7" height="21.9" fill="url(#lk)"/>
<rect x="626.4" y="384.3" width="14.7" height="21.9" fill="url(#lk)"/>
<rect x="643.3" y="384.3" width="14.7" height="21.9" fill="url(#lk)"/>
<rect x="660.2" y="384.3" width="14.7" height="21.9" fill="url(#lk)"/>
<rect x="588.0" y="322.9" width="59.2" height="7.4" fill="#6e5c5c"/>
<rect x="548.0" y="323.8" width="15.3" height="5.9" rx="1.6" fill="url(#sl)"/>
<rect x="564.9" y="323.8" width="15.3" height="5.9" rx="1.6" fill="url(#sl)"/>
<rect x="581.8" y="323.8" width="15.3" height="5.9" rx="1.6" fill="url(#sl)"/>
<rect x="598.7" y="323.8" width="15.3" height="5.9" rx="1.6" fill="url(#sl)"/>
<rect x="615.6" y="323.8" width="15.3" height="5.9" rx="1.6" fill="url(#sl)"/>
<rect x="632.5" y="323.8" width="15.3" height="5.9" rx="1.6" fill="url(#sl)"/>
<rect x="649.4" y="323.8" width="15.3" height="5.9" rx="1.6" fill="url(#sl)"/>
<rect x="588.0" y="350.2" width="59.2" height="6.8" fill="#6e5c5c"/>
<rect x="552.0" y="351.1" width="15.3" height="5.3" rx="1.6" fill="url(#sl)"/>
<rect x="568.9" y="351.1" width="15.3" height="5.3" rx="1.6" fill="url(#sl)"/>
<rect x="585.8" y="351.1" width="15.3" height="5.3" rx="1.6" fill="url(#sl)"/>
<rect x="602.7" y="351.1" width="15.3" height="5.3" rx="1.6" fill="url(#sl)"/>
<rect x="619.6" y="351.1" width="15.3" height="5.3" rx="1.6" fill="url(#sl)"/>
<rect x="636.5" y="351.1" width="15.3" height="5.3" rx="1.6" fill="url(#sl)"/>
<rect x="653.4" y="351.1" width="15.3" height="5.3" rx="1.6" fill="url(#sl)"/>
<rect x="588.0" y="376.7" width="59.2" height="7.6" fill="#6e5c5c"/>
<rect x="548.0" y="377.6" width="15.3" height="6.1" rx="1.6" fill="url(#sl)"/>
<rect x="564.9" y="377.6" width="15.3" height="6.1" rx="1.6" fill="url(#sl)"/>
<rect x="581.8" y="377.6" width="15.3" height="6.1" rx="1.6" fill="url(#sl)"/>
<rect x="598.7" y="377.6" width="15.3" height="6.1" rx="1.6" fill="url(#sl)"/>
<rect x="615.6" y="377.6" width="15.3" height="6.1" rx="1.6" fill="url(#sl)"/>
<rect x="632.5" y="377.6" width="15.3" height="6.1" rx="1.6" fill="url(#sl)"/>
<rect x="649.4" y="377.6" width="15.3" height="6.1" rx="1.6" fill="url(#sl)"/>
</g>
<rect x="588.0" y="407.0" width="59.2" height="6" fill="url(#shd)"/>
<path d="M399.6,298 L399.6,286 Q399.6,281 404.6,281 L466,280.5 L466,298 Z" fill="url(#br)"/>
<clipPath id="ml399"><path d="M399.6,298 L399.6,286 Q399.6,281 404.6,281 L466,280.5 L466,298 Z"/></clipPath><g clip-path="url(#ml399)"><ellipse cx="432.8" cy="284.0" rx="1.2" ry="0.8" fill="#a86f69" opacity="0.60"/><ellipse cx="402.1" cy="281.3" rx="1.4" ry="1.0" fill="#b98883" opacity="0.43"/><ellipse cx="415.9" cy="288.6" rx="1.7" ry="1.2" fill="#4e1e1c" opacity="0.40"/><ellipse cx="432.5" cy="295.2" rx="1.2" ry="0.9" fill="#4e1e1c" opacity="0.36"/><ellipse cx="413.9" cy="284.9" rx="0.9" ry="0.6" fill="#4e1e1c" opacity="0.51"/><ellipse cx="408.9" cy="297.8" rx="2.2" ry="1.5" fill="#b98883" opacity="0.25"/><ellipse cx="441.1" cy="296.0" rx="1.3" ry="0.9" fill="#a86f69" opacity="0.28"/><ellipse cx="455.5" cy="295.8" rx="1.7" ry="1.2" fill="#8e5550" opacity="0.46"/><ellipse cx="445.6" cy="281.8" rx="0.9" ry="0.6" fill="#8e5550" opacity="0.41"/><ellipse cx="417.1" cy="297.4" rx="2.2" ry="1.5" fill="#4e1e1c" opacity="0.36"/><ellipse cx="401.9" cy="296.0" rx="0.9" ry="0.7" fill="#b98883" opacity="0.25"/><ellipse cx="424.9" cy="289.1" rx="1.4" ry="1.0" fill="#b98883" opacity="0.34"/><ellipse cx="451.1" cy="282.5" rx="1.9" ry="1.3" fill="#b98883" opacity="0.39"/><ellipse cx="402.4" cy="281.4" rx="1.1" ry="0.8" fill="#b98883" opacity="0.28"/><ellipse cx="463.2" cy="295.5" rx="0.8" ry="0.6" fill="#4e1e1c" opacity="0.52"/><ellipse cx="439.2" cy="294.0" rx="1.8" ry="1.2" fill="#c9a09b" opacity="0.30"/><ellipse cx="447.7" cy="291.9" rx="0.7" ry="0.5" fill="#4e1e1c" opacity="0.56"/><ellipse cx="441.3" cy="293.5" rx="1.9" ry="1.3" fill="#b98883" opacity="0.57"/><ellipse cx="449.6" cy="290.7" rx="1.9" ry="1.3" fill="#a86f69" opacity="0.54"/><ellipse cx="438.4" cy="296.2" rx="1.7" ry="1.2" fill="#4e1e1c" opacity="0.48"/><ellipse cx="405.3" cy="281.7" rx="1.6" ry="1.1" fill="#a86f69" opacity="0.38"/><ellipse cx="429.6" cy="281.9" rx="0.6" ry="0.4" fill="#4e1e1c" opacity="0.49"/><ellipse cx="432.1" cy="281.1" rx="1.9" ry="1.3" fill="#4e1e1c" opacity="0.58"/><ellipse cx="459.2" cy="282.6" rx="1.4" ry="1.0" fill="#4e1e1c" opacity="0.51"/><ellipse cx="416.3" cy="282.3" rx="1.0" ry="0.7" fill="#4e1e1c" opacity="0.51"/><ellipse cx="414.9" cy="292.0" rx="1.3" ry="0.9" fill="#c9a09b" opacity="0.28"/><ellipse cx="460.1" cy="285.9" rx="0.7" ry="0.5" fill="#4e1e1c" opacity="0.47"/><ellipse cx="404.7" cy="283.5" rx="1.0" ry="0.7" fill="#4e1e1c" opacity="0.49"/><ellipse cx="440.8" cy="283.3" rx="1.4" ry="1.0" fill="#c9a09b" opacity="0.34"/><ellipse cx="444.2" cy="292.8" rx="1.7" ry="1.2" fill="#8e5550" opacity="0.50"/><ellipse cx="418.6" cy="288.9" rx="1.8" ry="1.3" fill="#4e1e1c" opacity="0.32"/><ellipse cx="464.5" cy="296.9" rx="0.6" ry="0.4" fill="#c9a09b" opacity="0.28"/><ellipse cx="433.2" cy="297.9" rx="2.2" ry="1.5" fill="#c9a09b" opacity="0.32"/><ellipse cx="462.4" cy="284.6" rx="1.5" ry="1.1" fill="#b98883" opacity="0.51"/><ellipse cx="417.0" cy="287.1" rx="1.6" ry="1.1" fill="#4e1e1c" opacity="0.43"/><ellipse cx="458.5" cy="293.0" rx="1.0" ry="0.7" fill="#c9a09b" opacity="0.39"/><ellipse cx="410.2" cy="297.1" rx="1.7" ry="1.2" fill="#c9a09b" opacity="0.36"/></g>
<path d="M400.1,285 Q400.1,281 404.6,281 L466,280.5 L466,282.8 L404.6,283.3 Q401.6,283.5 401.40000000000003,286 Z" fill="#e6cbc7"/>
<path d="M497,291.7 L497,276.8 L575.3,277.8 Q581.3,278.3 581.3,284.8 L581.3,305 L543,305 L543,291.7 Z" fill="url(#br)"/>
<clipPath id="mr497"><path d="M497,291.7 L497,276.8 L575.3,277.8 Q581.3,278.3 581.3,284.8 L581.3,305 L543,305 L543,291.7 Z"/></clipPath><g clip-path="url(#mr497)"><ellipse cx="508.9" cy="286.5" rx="1.1" ry="0.8" fill="#8e5550" opacity="0.25"/><ellipse cx="560.3" cy="300.5" rx="0.8" ry="0.6" fill="#b98883" opacity="0.50"/><ellipse cx="573.0" cy="285.0" rx="1.2" ry="0.8" fill="#c9a09b" opacity="0.39"/><ellipse cx="570.3" cy="279.0" rx="2.1" ry="1.5" fill="#8e5550" opacity="0.55"/><ellipse cx="520.7" cy="278.3" rx="1.7" ry="1.2" fill="#4e1e1c" opacity="0.58"/><ellipse cx="518.0" cy="284.3" rx="1.4" ry="1.0" fill="#b98883" opacity="0.52"/><ellipse cx="563.2" cy="288.9" rx="0.6" ry="0.5" fill="#4e1e1c" opacity="0.39"/><ellipse cx="570.8" cy="292.4" rx="0.9" ry="0.6" fill="#a86f69" opacity="0.27"/><ellipse cx="558.7" cy="289.5" rx="1.8" ry="1.3" fill="#4e1e1c" opacity="0.55"/><ellipse cx="537.9" cy="302.5" rx="1.5" ry="1.0" fill="#b98883" opacity="0.42"/><ellipse cx="526.0" cy="285.2" rx="1.8" ry="1.2" fill="#4e1e1c" opacity="0.34"/><ellipse cx="552.3" cy="285.3" rx="1.5" ry="1.0" fill="#c9a09b" opacity="0.29"/><ellipse cx="551.2" cy="278.9" rx="1.4" ry="1.0" fill="#c9a09b" opacity="0.44"/><ellipse cx="535.2" cy="286.2" rx="1.8" ry="1.3" fill="#c9a09b" opacity="0.30"/><ellipse cx="513.2" cy="279.4" rx="1.1" ry="0.8" fill="#a86f69" opacity="0.36"/><ellipse cx="528.0" cy="299.6" rx="0.9" ry="0.6" fill="#a86f69" opacity="0.51"/><ellipse cx="531.8" cy="288.5" rx="1.4" ry="1.0" fill="#c9a09b" opacity="0.34"/><ellipse cx="560.4" cy="290.8" rx="1.5" ry="1.1" fill="#8e5550" opacity="0.29"/><ellipse cx="539.4" cy="294.6" rx="2.0" ry="1.4" fill="#b98883" opacity="0.28"/><ellipse cx="572.6" cy="287.6" rx="1.6" ry="1.1" fill="#c9a09b" opacity="0.58"/><ellipse cx="568.5" cy="301.4" rx="0.6" ry="0.4" fill="#a86f69" opacity="0.40"/><ellipse cx="561.4" cy="299.5" rx="2.1" ry="1.5" fill="#c9a09b" opacity="0.25"/><ellipse cx="530.0" cy="302.9" rx="1.9" ry="1.3" fill="#c9a09b" opacity="0.59"/><ellipse cx="517.9" cy="279.9" rx="0.8" ry="0.6" fill="#4e1e1c" opacity="0.59"/><ellipse cx="506.2" cy="300.1" rx="1.7" ry="1.2" fill="#c9a09b" opacity="0.28"/><ellipse cx="562.5" cy="276.8" rx="0.8" ry="0.6" fill="#4e1e1c" opacity="0.57"/><ellipse cx="551.4" cy="285.4" rx="0.8" ry="0.6" fill="#8e5550" opacity="0.43"/><ellipse cx="533.9" cy="298.3" rx="0.8" ry="0.5" fill="#8e5550" opacity="0.43"/><ellipse cx="546.1" cy="287.7" rx="1.0" ry="0.7" fill="#4e1e1c" opacity="0.25"/><ellipse cx="542.3" cy="304.9" rx="1.0" ry="0.7" fill="#8e5550" opacity="0.48"/><ellipse cx="571.5" cy="290.2" rx="1.0" ry="0.7" fill="#b98883" opacity="0.26"/><ellipse cx="531.7" cy="295.1" rx="0.7" ry="0.5" fill="#b98883" opacity="0.42"/><ellipse cx="553.9" cy="288.6" rx="1.0" ry="0.7" fill="#4e1e1c" opacity="0.40"/><ellipse cx="528.2" cy="290.7" rx="1.7" ry="1.2" fill="#4e1e1c" opacity="0.40"/><ellipse cx="554.5" cy="282.4" rx="1.9" ry="1.3" fill="#4e1e1c" opacity="0.55"/><ellipse cx="502.7" cy="290.8" rx="0.9" ry="0.6" fill="#b98883" opacity="0.33"/><ellipse cx="515.7" cy="298.2" rx="1.1" ry="0.8" fill="#4e1e1c" opacity="0.42"/><ellipse cx="512.8" cy="283.1" rx="1.3" ry="0.9" fill="#4e1e1c" opacity="0.27"/><ellipse cx="547.1" cy="302.8" rx="0.7" ry="0.5" fill="#a86f69" opacity="0.59"/><ellipse cx="509.0" cy="278.3" rx="0.7" ry="0.5" fill="#c9a09b" opacity="0.41"/><ellipse cx="557.0" cy="285.7" rx="0.8" ry="0.5" fill="#a86f69" opacity="0.58"/><ellipse cx="524.8" cy="282.0" rx="2.1" ry="1.5" fill="#4e1e1c" opacity="0.41"/><ellipse cx="523.3" cy="297.3" rx="1.9" ry="1.4" fill="#8e5550" opacity="0.40"/><ellipse cx="506.2" cy="279.0" rx="0.7" ry="0.5" fill="#c9a09b" opacity="0.58"/><ellipse cx="507.4" cy="304.0" rx="0.9" ry="0.7" fill="#8e5550" opacity="0.52"/><ellipse cx="523.0" cy="299.5" rx="0.7" ry="0.5" fill="#4e1e1c" opacity="0.42"/><ellipse cx="528.4" cy="302.7" rx="0.9" ry="0.6" fill="#8e5550" opacity="0.51"/><ellipse cx="537.0" cy="294.6" rx="1.0" ry="0.7" fill="#4e1e1c" opacity="0.52"/><ellipse cx="500.4" cy="277.8" rx="0.7" ry="0.5" fill="#a86f69" opacity="0.34"/><ellipse cx="560.0" cy="302.1" rx="1.1" ry="0.8" fill="#8e5550" opacity="0.37"/><ellipse cx="577.4" cy="278.0" rx="1.8" ry="1.3" fill="#4e1e1c" opacity="0.36"/><ellipse cx="520.2" cy="276.9" rx="1.8" ry="1.3" fill="#4e1e1c" opacity="0.58"/><ellipse cx="502.5" cy="300.1" rx="0.8" ry="0.5" fill="#4e1e1c" opacity="0.58"/><ellipse cx="577.4" cy="287.7" rx="1.0" ry="0.7" fill="#c9a09b" opacity="0.54"/><ellipse cx="508.2" cy="290.8" rx="0.6" ry="0.4" fill="#4e1e1c" opacity="0.36"/><ellipse cx="555.3" cy="281.1" rx="1.0" ry="0.7" fill="#8e5550" opacity="0.41"/><ellipse cx="563.1" cy="293.6" rx="1.4" ry="1.0" fill="#c9a09b" opacity="0.51"/><ellipse cx="517.8" cy="278.6" rx="0.7" ry="0.5" fill="#4e1e1c" opacity="0.44"/><ellipse cx="510.5" cy="288.8" rx="0.8" ry="0.5" fill="#a86f69" opacity="0.34"/><ellipse cx="504.1" cy="279.5" rx="1.4" ry="1.0" fill="#4e1e1c" opacity="0.59"/><ellipse cx="511.6" cy="280.5" rx="1.3" ry="0.9" fill="#4e1e1c" opacity="0.33"/><ellipse cx="542.4" cy="298.6" rx="1.8" ry="1.3" fill="#8e5550" opacity="0.35"/><ellipse cx="544.8" cy="287.3" rx="1.8" ry="1.2" fill="#b98883" opacity="0.40"/><ellipse cx="512.7" cy="283.4" rx="1.1" ry="0.7" fill="#4e1e1c" opacity="0.32"/><ellipse cx="502.5" cy="283.9" rx="1.0" ry="0.7" fill="#4e1e1c" opacity="0.33"/><ellipse cx="565.2" cy="295.2" rx="2.2" ry="1.5" fill="#a86f69" opacity="0.25"/><ellipse cx="571.4" cy="283.3" rx="1.3" ry="0.9" fill="#8e5550" opacity="0.26"/><ellipse cx="521.8" cy="280.2" rx="0.9" ry="0.6" fill="#4e1e1c" opacity="0.32"/><ellipse cx="503.3" cy="291.3" rx="0.9" ry="0.6" fill="#4e1e1c" opacity="0.34"/><ellipse cx="562.6" cy="303.5" rx="0.8" ry="0.5" fill="#4e1e1c" opacity="0.50"/><ellipse cx="526.5" cy="277.9" rx="1.1" ry="0.8" fill="#a86f69" opacity="0.32"/><ellipse cx="518.5" cy="293.7" rx="1.6" ry="1.1" fill="#b98883" opacity="0.54"/><ellipse cx="566.0" cy="288.3" rx="1.2" ry="0.8" fill="#4e1e1c" opacity="0.36"/><ellipse cx="514.1" cy="299.2" rx="1.5" ry="1.0" fill="#a86f69" opacity="0.39"/><ellipse cx="564.1" cy="295.5" rx="0.8" ry="0.6" fill="#4e1e1c" opacity="0.28"/><ellipse cx="510.8" cy="296.4" rx="1.3" ry="0.9" fill="#8e5550" opacity="0.48"/><ellipse cx="532.2" cy="278.2" rx="1.8" ry="1.3" fill="#8e5550" opacity="0.39"/><ellipse cx="498.5" cy="298.4" rx="1.9" ry="1.3" fill="#4e1e1c" opacity="0.32"/><ellipse cx="558.4" cy="282.5" rx="0.6" ry="0.4" fill="#b98883" opacity="0.40"/></g>
<path d="M497,276.8 L575.3,277.8 Q581.3,278.3 581.8,284.8 L579.8,284.8 Q579.3,280.3 575.3,279.8 L497,279.3 Z" fill="#e6cbc7"/>
<rect x="497" y="291.7" width="46.0" height="8.3" fill="#e9e1e1"/>
<path d="M493,276.5 Q512,277 521,289.5 L515,291.5 Q507,283 493,282.5 Z" fill="#e6c6c2" stroke="#a97b76" stroke-width="0.7"/>
<rect x="430.8" y="284" width="7.8" height="108.0" fill="url(#pkd)" stroke="#a97c77" stroke-width="0.7"/>
<rect x="430.8" y="284" width="2.5" height="108.0" fill="#efd6d2"/>
<rect x="446.4" y="293.8" width="26.4" height="99.2" fill="url(#pkf)"/>
<rect x="446.4" y="293.8" width="1.2" height="99.2" fill="#b88c87"/>
<path d="M466.0,275.0 L469.5,273.2 L481.5,275.0 L496.1,282.0 L496.1,385.0 L481.5,385.0 L471.5,378.0 L462.0,377.0 L462.0,365.0 L472.5,363.0 L472.5,292.0 Z" fill="url(#pk)" stroke="#a2736e" stroke-width="0.9"/>
<path d="M466.0,275.0 L469.5,273.2 L472.5,292.0 L472.5,363.0 L466.5,364.0 Z" fill="#f0d6d2" opacity="0.8"/>
<path d="M493.0,282.0 L496.1,282.0 L496.1,385.0 L493.0,385.0 Z" fill="#c09590" opacity="0.8"/>
<path d="M479.5,326.0 L483.5,319.0 L483.5,329.0 Z" fill="#c18f8a"/>
<rect x="540.6" y="305" width="43.4" height="91.0" fill="url(#pkrp)"/>
<rect x="540.6" y="305" width="1.4" height="91.0" fill="#a87a75"/>
<rect x="540.6" y="305" width="39.4" height="1.2" fill="#b9918c"/>
<rect x="578" y="310" width="11" height="86.0" rx="3.5" fill="url(#pk)" stroke="#b98a85" stroke-width="0.9"/>
<path d="M397.4,411.0 L575.4,413.0 L573.4,418.0 L399.4,416.0 Z" fill="#9a9090" opacity="0.45" filter="url(#blur2)"/>
<path d="M399.4,391.5 L467.4,390.5 Q485.4,386.5 507.4,395.0 L578.4,398.5 Q584.9,400.0 582.4,405.0 L576.4,414.0 L401.4,412.0 Q393.4,410.5 393.9,402.0 Q394.9,392.0 399.4,391.5 Z" fill="url(#pkv2)" stroke="#a97b76" stroke-width="0.9"/>
<path d="M400.4,393.0 L467.4,392.0 L467.4,394.5 L401.4,395.5 Z" fill="#f3dcd8" opacity="0.8"/>
<path d="M507.4,396.5 L577.4,400.0 L576.4,402.0 L507.4,398.5 Z" fill="#f1d8d4" opacity="0.7"/>
<path d="M466.4,406.0 Q466.4,392.0 483.4,391.0 Q505.4,391.5 511.4,401.0 Q505.4,412.5 483.4,413.0 Q467.4,412.5 466.4,406.0 Z" fill="#e4bfba" stroke="#a87a75" stroke-width="0.8"/>
<ellipse cx="483.2" cy="403.0" rx="7" ry="5.5" fill="#ecd0cc" stroke="#8f625d" stroke-width="1.2"/>
<ellipse cx="483.2" cy="403.5" rx="4" ry="3" fill="#e2bcb7"/>
<circle cx="413.6" cy="400.6" r="2.3" fill="#f3dedb" stroke="#8f645f" stroke-width="1"/>
<circle cx="431.2" cy="399.0" r="2.3" fill="#f3dedb" stroke="#8f645f" stroke-width="1"/>
<circle cx="552.4" cy="405.3" r="2.3" fill="#f3dedb" stroke="#8f645f" stroke-width="1"/>
<path d="M402,264.5 L420,264.5 L420,261 L431.5,267.7 L420,274.2 L420,271 L402,271 Z" fill="#23a6df"/>
<path d="M547,422.2 L529.5,422.2 L529.5,419.2 L517.8,425.4 L529.5,431.8 L529.5,428.8 L547,428.8 Z" fill="#23a6df"/>
<clipPath id="cA670_314"><rect x="670.2" y="314.3" width="163.8" height="105.3"/></clipPath>
<g clip-path="url(#cA670_314)">
<rect x="670.2" y="314.3" width="163.8" height="105.3" fill="#4a3838"/>
<rect x="649.1" y="314.3" width="14.0" height="18.7" fill="url(#lk)"/>
<rect x="665.3" y="314.3" width="14.0" height="18.7" fill="url(#lk)"/>
<rect x="681.5" y="314.3" width="14.0" height="18.7" fill="url(#lk)"/>
<rect x="697.7" y="314.3" width="14.0" height="18.7" fill="url(#lk)"/>
<rect x="713.9" y="314.3" width="14.0" height="18.7" fill="url(#lk)"/>
<rect x="730.1" y="314.3" width="14.0" height="18.7" fill="url(#lk)"/>
<rect x="746.3" y="314.3" width="14.0" height="18.7" fill="url(#lk)"/>
<rect x="762.5" y="314.3" width="14.0" height="18.7" fill="url(#lk)"/>
<rect x="778.7" y="314.3" width="14.0" height="18.7" fill="url(#lk)"/>
<rect x="794.9" y="314.3" width="14.0" height="18.7" fill="url(#lk)"/>
<rect x="811.1" y="314.3" width="14.0" height="18.7" fill="url(#lk)"/>
<rect x="827.3" y="314.3" width="14.0" height="18.7" fill="url(#lk)"/>
<rect x="843.5" y="314.3" width="14.0" height="18.7" fill="url(#lk)"/>
<rect x="649.1" y="341.0" width="14.0" height="20.0" fill="url(#lk)"/>
<rect x="665.3" y="341.0" width="14.0" height="20.0" fill="url(#lk)"/>
<rect x="681.5" y="341.0" width="14.0" height="20.0" fill="url(#lk)"/>
<rect x="697.7" y="341.0" width="14.0" height="20.0" fill="url(#lk)"/>
<rect x="713.9" y="341.0" width="14.0" height="20.0" fill="url(#lk)"/>
<rect x="730.1" y="341.0" width="14.0" height="20.0" fill="url(#lk)"/>
<rect x="746.3" y="341.0" width="14.0" height="20.0" fill="url(#lk)"/>
<rect x="762.5" y="341.0" width="14.0" height="20.0" fill="url(#lk)"/>
<rect x="778.7" y="341.0" width="14.0" height="20.0" fill="url(#lk)"/>
<rect x="794.9" y="341.0" width="14.0" height="20.0" fill="url(#lk)"/>
<rect x="811.1" y="341.0" width="14.0" height="20.0" fill="url(#lk)"/>
<rect x="827.3" y="341.0" width="14.0" height="20.0" fill="url(#lk)"/>
<rect x="843.5" y="341.0" width="14.0" height="20.0" fill="url(#lk)"/>
<rect x="649.1" y="368.3" width="14.0" height="20.6" fill="url(#lk)"/>
<rect x="665.3" y="368.3" width="14.0" height="20.6" fill="url(#lk)"/>
<rect x="681.5" y="368.3" width="14.0" height="20.6" fill="url(#lk)"/>
<rect x="697.7" y="368.3" width="14.0" height="20.6" fill="url(#lk)"/>
<rect x="713.9" y="368.3" width="14.0" height="20.6" fill="url(#lk)"/>
<rect x="730.1" y="368.3" width="14.0" height="20.6" fill="url(#lk)"/>
<rect x="746.3" y="368.3" width="14.0" height="20.6" fill="url(#lk)"/>
<rect x="762.5" y="368.3" width="14.0" height="20.6" fill="url(#lk)"/>
<rect x="778.7" y="368.3" width="14.0" height="20.6" fill="url(#lk)"/>
<rect x="794.9" y="368.3" width="14.0" height="20.6" fill="url(#lk)"/>
<rect x="811.1" y="368.3" width="14.0" height="20.6" fill="url(#lk)"/>
<rect x="827.3" y="368.3" width="14.0" height="20.6" fill="url(#lk)"/>
<rect x="843.5" y="368.3" width="14.0" height="20.6" fill="url(#lk)"/>
<rect x="649.1" y="396.3" width="14.0" height="22.5" fill="url(#lk)"/>
<rect x="665.3" y="396.3" width="14.0" height="22.5" fill="url(#lk)"/>
<rect x="681.5" y="396.3" width="14.0" height="22.5" fill="url(#lk)"/>
<rect x="697.7" y="396.3" width="14.0" height="22.5" fill="url(#lk)"/>
<rect x="713.9" y="396.3" width="14.0" height="22.5" fill="url(#lk)"/>
<rect x="730.1" y="396.3" width="14.0" height="22.5" fill="url(#lk)"/>
<rect x="746.3" y="396.3" width="14.0" height="22.5" fill="url(#lk)"/>
<rect x="762.5" y="396.3" width="14.0" height="22.5" fill="url(#lk)"/>
<rect x="778.7" y="396.3" width="14.0" height="22.5" fill="url(#lk)"/>
<rect x="794.9" y="396.3" width="14.0" height="22.5" fill="url(#lk)"/>
<rect x="811.1" y="396.3" width="14.0" height="22.5" fill="url(#lk)"/>
<rect x="827.3" y="396.3" width="14.0" height="22.5" fill="url(#lk)"/>
<rect x="843.5" y="396.3" width="14.0" height="22.5" fill="url(#lk)"/>
<rect x="670.2" y="333.5" width="163.8" height="7.5" fill="#6e5c5c"/>
<rect x="638.7" y="334.4" width="14.6" height="6.0" rx="1.6" fill="url(#sl)"/>
<rect x="654.9" y="334.4" width="14.6" height="6.0" rx="1.6" fill="url(#sl)"/>
<rect x="671.1" y="334.4" width="14.6" height="6.0" rx="1.6" fill="url(#sl)"/>
<rect x="687.3" y="334.4" width="14.6" height="6.0" rx="1.6" fill="url(#sl)"/>
<rect x="703.5" y="334.4" width="14.6" height="6.0" rx="1.6" fill="url(#sl)"/>
<rect x="719.7" y="334.4" width="14.6" height="6.0" rx="1.6" fill="url(#sl)"/>
<rect x="735.9" y="334.4" width="14.6" height="6.0" rx="1.6" fill="url(#sl)"/>
<rect x="752.1" y="334.4" width="14.6" height="6.0" rx="1.6" fill="url(#sl)"/>
<rect x="768.3" y="334.4" width="14.6" height="6.0" rx="1.6" fill="url(#sl)"/>
<rect x="784.5" y="334.4" width="14.6" height="6.0" rx="1.6" fill="url(#sl)"/>
<rect x="800.7" y="334.4" width="14.6" height="6.0" rx="1.6" fill="url(#sl)"/>
<rect x="816.9" y="334.4" width="14.6" height="6.0" rx="1.6" fill="url(#sl)"/>
<rect x="833.1" y="334.4" width="14.6" height="6.0" rx="1.6" fill="url(#sl)"/>
<rect x="670.2" y="361.5" width="163.8" height="6.8" fill="#6e5c5c"/>
<rect x="642.7" y="362.4" width="14.6" height="5.3" rx="1.6" fill="url(#sl)"/>
<rect x="658.9" y="362.4" width="14.6" height="5.3" rx="1.6" fill="url(#sl)"/>
<rect x="675.1" y="362.4" width="14.6" height="5.3" rx="1.6" fill="url(#sl)"/>
<rect x="691.3" y="362.4" width="14.6" height="5.3" rx="1.6" fill="url(#sl)"/>
<rect x="707.5" y="362.4" width="14.6" height="5.3" rx="1.6" fill="url(#sl)"/>
<rect x="723.7" y="362.4" width="14.6" height="5.3" rx="1.6" fill="url(#sl)"/>
<rect x="739.9" y="362.4" width="14.6" height="5.3" rx="1.6" fill="url(#sl)"/>
<rect x="756.1" y="362.4" width="14.6" height="5.3" rx="1.6" fill="url(#sl)"/>
<rect x="772.3" y="362.4" width="14.6" height="5.3" rx="1.6" fill="url(#sl)"/>
<rect x="788.5" y="362.4" width="14.6" height="5.3" rx="1.6" fill="url(#sl)"/>
<rect x="804.7" y="362.4" width="14.6" height="5.3" rx="1.6" fill="url(#sl)"/>
<rect x="820.9" y="362.4" width="14.6" height="5.3" rx="1.6" fill="url(#sl)"/>
<rect x="837.1" y="362.4" width="14.6" height="5.3" rx="1.6" fill="url(#sl)"/>
<rect x="670.2" y="389.4" width="163.8" height="6.9" fill="#6e5c5c"/>
<rect x="638.7" y="390.3" width="14.6" height="5.4" rx="1.6" fill="url(#sl)"/>
<rect x="654.9" y="390.3" width="14.6" height="5.4" rx="1.6" fill="url(#sl)"/>
<rect x="671.1" y="390.3" width="14.6" height="5.4" rx="1.6" fill="url(#sl)"/>
<rect x="687.3" y="390.3" width="14.6" height="5.4" rx="1.6" fill="url(#sl)"/>
<rect x="703.5" y="390.3" width="14.6" height="5.4" rx="1.6" fill="url(#sl)"/>
<rect x="719.7" y="390.3" width="14.6" height="5.4" rx="1.6" fill="url(#sl)"/>
<rect x="735.9" y="390.3" width="14.6" height="5.4" rx="1.6" fill="url(#sl)"/>
<rect x="752.1" y="390.3" width="14.6" height="5.4" rx="1.6" fill="url(#sl)"/>
<rect x="768.3" y="390.3" width="14.6" height="5.4" rx="1.6" fill="url(#sl)"/>
<rect x="784.5" y="390.3" width="14.6" height="5.4" rx="1.6" fill="url(#sl)"/>
<rect x="800.7" y="390.3" width="14.6" height="5.4" rx="1.6" fill="url(#sl)"/>
<rect x="816.9" y="390.3" width="14.6" height="5.4" rx="1.6" fill="url(#sl)"/>
<rect x="833.1" y="390.3" width="14.6" height="5.4" rx="1.6" fill="url(#sl)"/>
</g>
<rect x="670.2" y="419.6" width="163.8" height="6" fill="url(#shd)"/>
<clipPath id="cA834_313"><rect x="834.0" y="313.0" width="91.0" height="106.0"/></clipPath>
<g clip-path="url(#cA834_313)">
<rect x="834.0" y="313.0" width="91.0" height="106.0" fill="#4a3838"/>
<rect x="802.9" y="313.0" width="14.8" height="20.2" fill="url(#lk)"/>
<rect x="819.9" y="313.0" width="14.8" height="20.2" fill="url(#lk)"/>
<rect x="836.9" y="313.0" width="14.8" height="20.2" fill="url(#lk)"/>
<rect x="853.9" y="313.0" width="14.8" height="20.2" fill="url(#lk)"/>
<rect x="870.9" y="313.0" width="14.8" height="20.2" fill="url(#lk)"/>
<rect x="887.9" y="313.0" width="14.8" height="20.2" fill="url(#lk)"/>
<rect x="904.9" y="313.0" width="14.8" height="20.2" fill="url(#lk)"/>
<rect x="921.9" y="313.0" width="14.8" height="20.2" fill="url(#lk)"/>
<rect x="938.9" y="313.0" width="14.8" height="20.2" fill="url(#lk)"/>
<rect x="802.9" y="341.0" width="14.8" height="20.2" fill="url(#lk)"/>
<rect x="819.9" y="341.0" width="14.8" height="20.2" fill="url(#lk)"/>
<rect x="836.9" y="341.0" width="14.8" height="20.2" fill="url(#lk)"/>
<rect x="853.9" y="341.0" width="14.8" height="20.2" fill="url(#lk)"/>
<rect x="870.9" y="341.0" width="14.8" height="20.2" fill="url(#lk)"/>
<rect x="887.9" y="341.0" width="14.8" height="20.2" fill="url(#lk)"/>
<rect x="904.9" y="341.0" width="14.8" height="20.2" fill="url(#lk)"/>
<rect x="921.9" y="341.0" width="14.8" height="20.2" fill="url(#lk)"/>
<rect x="938.9" y="341.0" width="14.8" height="20.2" fill="url(#lk)"/>
<rect x="802.9" y="369.0" width="14.8" height="19.2" fill="url(#lk)"/>
<rect x="819.9" y="369.0" width="14.8" height="19.2" fill="url(#lk)"/>
<rect x="836.9" y="369.0" width="14.8" height="19.2" fill="url(#lk)"/>
<rect x="853.9" y="369.0" width="14.8" height="19.2" fill="url(#lk)"/>
<rect x="870.9" y="369.0" width="14.8" height="19.2" fill="url(#lk)"/>
<rect x="887.9" y="369.0" width="14.8" height="19.2" fill="url(#lk)"/>
<rect x="904.9" y="369.0" width="14.8" height="19.2" fill="url(#lk)"/>
<rect x="921.9" y="369.0" width="14.8" height="19.2" fill="url(#lk)"/>
<rect x="938.9" y="369.0" width="14.8" height="19.2" fill="url(#lk)"/>
<rect x="802.9" y="396.0" width="14.8" height="22.2" fill="url(#lk)"/>
<rect x="819.9" y="396.0" width="14.8" height="22.2" fill="url(#lk)"/>
<rect x="836.9" y="396.0" width="14.8" height="22.2" fill="url(#lk)"/>
<rect x="853.9" y="396.0" width="14.8" height="22.2" fill="url(#lk)"/>
<rect x="870.9" y="396.0" width="14.8" height="22.2" fill="url(#lk)"/>
<rect x="887.9" y="396.0" width="14.8" height="22.2" fill="url(#lk)"/>
<rect x="904.9" y="396.0" width="14.8" height="22.2" fill="url(#lk)"/>
<rect x="921.9" y="396.0" width="14.8" height="22.2" fill="url(#lk)"/>
<rect x="938.9" y="396.0" width="14.8" height="22.2" fill="url(#lk)"/>
<rect x="834.0" y="333.7" width="91.0" height="7.3" fill="#6e5c5c"/>
<rect x="792.1" y="334.6" width="15.4" height="5.8" rx="1.6" fill="url(#sl)"/>
<rect x="809.1" y="334.6" width="15.4" height="5.8" rx="1.6" fill="url(#sl)"/>
<rect x="826.1" y="334.6" width="15.4" height="5.8" rx="1.6" fill="url(#sl)"/>
<rect x="843.1" y="334.6" width="15.4" height="5.8" rx="1.6" fill="url(#sl)"/>
<rect x="860.1" y="334.6" width="15.4" height="5.8" rx="1.6" fill="url(#sl)"/>
<rect x="877.1" y="334.6" width="15.4" height="5.8" rx="1.6" fill="url(#sl)"/>
<rect x="894.1" y="334.6" width="15.4" height="5.8" rx="1.6" fill="url(#sl)"/>
<rect x="911.1" y="334.6" width="15.4" height="5.8" rx="1.6" fill="url(#sl)"/>
<rect x="928.1" y="334.6" width="15.4" height="5.8" rx="1.6" fill="url(#sl)"/>
<rect x="834.0" y="361.7" width="91.0" height="7.3" fill="#6e5c5c"/>
<rect x="796.1" y="362.6" width="15.4" height="5.8" rx="1.6" fill="url(#sl)"/>
<rect x="813.1" y="362.6" width="15.4" height="5.8" rx="1.6" fill="url(#sl)"/>
<rect x="830.1" y="362.6" width="15.4" height="5.8" rx="1.6" fill="url(#sl)"/>
<rect x="847.1" y="362.6" width="15.4" height="5.8" rx="1.6" fill="url(#sl)"/>
<rect x="864.1" y="362.6" width="15.4" height="5.8" rx="1.6" fill="url(#sl)"/>
<rect x="881.1" y="362.6" width="15.4" height="5.8" rx="1.6" fill="url(#sl)"/>
<rect x="898.1" y="362.6" width="15.4" height="5.8" rx="1.6" fill="url(#sl)"/>
<rect x="915.1" y="362.6" width="15.4" height="5.8" rx="1.6" fill="url(#sl)"/>
<rect x="932.1" y="362.6" width="15.4" height="5.8" rx="1.6" fill="url(#sl)"/>
<rect x="834.0" y="388.7" width="91.0" height="7.3" fill="#6e5c5c"/>
<rect x="792.1" y="389.6" width="15.4" height="5.8" rx="1.6" fill="url(#sl)"/>
<rect x="809.1" y="389.6" width="15.4" height="5.8" rx="1.6" fill="url(#sl)"/>
<rect x="826.1" y="389.6" width="15.4" height="5.8" rx="1.6" fill="url(#sl)"/>
<rect x="843.1" y="389.6" width="15.4" height="5.8" rx="1.6" fill="url(#sl)"/>
<rect x="860.1" y="389.6" width="15.4" height="5.8" rx="1.6" fill="url(#sl)"/>
<rect x="877.1" y="389.6" width="15.4" height="5.8" rx="1.6" fill="url(#sl)"/>
<rect x="894.1" y="389.6" width="15.4" height="5.8" rx="1.6" fill="url(#sl)"/>
<rect x="911.1" y="389.6" width="15.4" height="5.8" rx="1.6" fill="url(#sl)"/>
<rect x="928.1" y="389.6" width="15.4" height="5.8" rx="1.6" fill="url(#sl)"/>
</g>
<rect x="834.0" y="419.0" width="91.0" height="6" fill="url(#shd)"/>
<clipPath id="cA925_314"><rect x="925.0" y="314.2" width="47.0" height="107.2"/></clipPath>
<g clip-path="url(#cA925_314)">
<rect x="925.0" y="314.2" width="47.0" height="107.2" fill="#4a3838"/>
<rect x="902.3" y="314.2" width="14.4" height="20.2" fill="url(#lk)"/>
<rect x="918.9" y="314.2" width="14.4" height="20.2" fill="url(#lk)"/>
<rect x="935.5" y="314.2" width="14.4" height="20.2" fill="url(#lk)"/>
<rect x="952.1" y="314.2" width="14.4" height="20.2" fill="url(#lk)"/>
<rect x="968.7" y="314.2" width="14.4" height="20.2" fill="url(#lk)"/>
<rect x="985.3" y="314.2" width="14.4" height="20.2" fill="url(#lk)"/>
<rect x="902.3" y="342.2" width="14.4" height="20.2" fill="url(#lk)"/>
<rect x="918.9" y="342.2" width="14.4" height="20.2" fill="url(#lk)"/>
<rect x="935.5" y="342.2" width="14.4" height="20.2" fill="url(#lk)"/>
<rect x="952.1" y="342.2" width="14.4" height="20.2" fill="url(#lk)"/>
<rect x="968.7" y="342.2" width="14.4" height="20.2" fill="url(#lk)"/>
<rect x="985.3" y="342.2" width="14.4" height="20.2" fill="url(#lk)"/>
<rect x="902.3" y="370.2" width="14.4" height="19.7" fill="url(#lk)"/>
<rect x="918.9" y="370.2" width="14.4" height="19.7" fill="url(#lk)"/>
<rect x="935.5" y="370.2" width="14.4" height="19.7" fill="url(#lk)"/>
<rect x="952.1" y="370.2" width="14.4" height="19.7" fill="url(#lk)"/>
<rect x="968.7" y="370.2" width="14.4" height="19.7" fill="url(#lk)"/>
<rect x="985.3" y="370.2" width="14.4" height="19.7" fill="url(#lk)"/>
<rect x="902.3" y="397.7" width="14.4" height="22.9" fill="url(#lk)"/>
<rect x="918.9" y="397.7" width="14.4" height="22.9" fill="url(#lk)"/>
<rect x="935.5" y="397.7" width="14.4" height="22.9" fill="url(#lk)"/>
<rect x="952.1" y="397.7" width="14.4" height="22.9" fill="url(#lk)"/>
<rect x="968.7" y="397.7" width="14.4" height="22.9" fill="url(#lk)"/>
<rect x="985.3" y="397.7" width="14.4" height="22.9" fill="url(#lk)"/>
<rect x="925.0" y="334.9" width="47.0" height="7.3" fill="#6e5c5c"/>
<rect x="891.7" y="335.8" width="15.0" height="5.8" rx="1.6" fill="url(#sl)"/>
<rect x="908.3" y="335.8" width="15.0" height="5.8" rx="1.6" fill="url(#sl)"/>
<rect x="924.9" y="335.8" width="15.0" height="5.8" rx="1.6" fill="url(#sl)"/>
<rect x="941.5" y="335.8" width="15.0" height="5.8" rx="1.6" fill="url(#sl)"/>
<rect x="958.1" y="335.8" width="15.0" height="5.8" rx="1.6" fill="url(#sl)"/>
<rect x="974.7" y="335.8" width="15.0" height="5.8" rx="1.6" fill="url(#sl)"/>
<rect x="925.0" y="362.9" width="47.0" height="7.3" fill="#6e5c5c"/>
<rect x="895.7" y="363.8" width="15.0" height="5.8" rx="1.6" fill="url(#sl)"/>
<rect x="912.3" y="363.8" width="15.0" height="5.8" rx="1.6" fill="url(#sl)"/>
<rect x="928.9" y="363.8" width="15.0" height="5.8" rx="1.6" fill="url(#sl)"/>
<rect x="945.5" y="363.8" width="15.0" height="5.8" rx="1.6" fill="url(#sl)"/>
<rect x="962.1" y="363.8" width="15.0" height="5.8" rx="1.6" fill="url(#sl)"/>
<rect x="978.7" y="363.8" width="15.0" height="5.8" rx="1.6" fill="url(#sl)"/>
<rect x="925.0" y="390.4" width="47.0" height="7.3" fill="#6e5c5c"/>
<rect x="891.7" y="391.3" width="15.0" height="5.8" rx="1.6" fill="url(#sl)"/>
<rect x="908.3" y="391.3" width="15.0" height="5.8" rx="1.6" fill="url(#sl)"/>
<rect x="924.9" y="391.3" width="15.0" height="5.8" rx="1.6" fill="url(#sl)"/>
<rect x="941.5" y="391.3" width="15.0" height="5.8" rx="1.6" fill="url(#sl)"/>
<rect x="958.1" y="391.3" width="15.0" height="5.8" rx="1.6" fill="url(#sl)"/>
<rect x="974.7" y="391.3" width="15.0" height="5.8" rx="1.6" fill="url(#sl)"/>
</g>
<rect x="925.0" y="421.4" width="47.0" height="6" fill="url(#shd)"/>
<path d="M736.5,313 L736.5,301 Q736.5,296 742,296 L846,296 Q855,298 856,308 L856,313 Z" fill="url(#br)"/>
<clipPath id="m4l"><path d="M736.5,313 L736.5,301 Q736.5,296 742,296 L846,296 Q855,298 856,308 L856,313 Z"/></clipPath><g clip-path="url(#m4l)"><ellipse cx="834.5" cy="302.9" rx="2.0" ry="1.4" fill="#c9a09b" opacity="0.52"/><ellipse cx="752.0" cy="296.9" rx="0.8" ry="0.6" fill="#c9a09b" opacity="0.28"/><ellipse cx="810.9" cy="302.3" rx="1.4" ry="1.0" fill="#b98883" opacity="0.37"/><ellipse cx="755.8" cy="298.9" rx="0.7" ry="0.5" fill="#c9a09b" opacity="0.42"/><ellipse cx="832.7" cy="312.4" rx="0.9" ry="0.6" fill="#b98883" opacity="0.54"/><ellipse cx="741.7" cy="311.5" rx="1.1" ry="0.8" fill="#4e1e1c" opacity="0.57"/><ellipse cx="782.9" cy="311.4" rx="1.6" ry="1.1" fill="#b98883" opacity="0.47"/><ellipse cx="838.9" cy="306.6" rx="1.6" ry="1.1" fill="#b98883" opacity="0.54"/><ellipse cx="758.4" cy="299.7" rx="1.2" ry="0.9" fill="#4e1e1c" opacity="0.30"/><ellipse cx="779.4" cy="298.5" rx="2.2" ry="1.5" fill="#b98883" opacity="0.26"/><ellipse cx="803.7" cy="308.9" rx="0.7" ry="0.5" fill="#8e5550" opacity="0.29"/><ellipse cx="808.1" cy="305.4" rx="1.6" ry="1.1" fill="#8e5550" opacity="0.48"/><ellipse cx="773.3" cy="300.2" rx="1.2" ry="0.9" fill="#8e5550" opacity="0.41"/><ellipse cx="788.9" cy="296.4" rx="1.6" ry="1.1" fill="#c9a09b" opacity="0.41"/><ellipse cx="789.9" cy="306.5" rx="1.9" ry="1.3" fill="#b98883" opacity="0.53"/><ellipse cx="784.3" cy="297.1" rx="1.2" ry="0.8" fill="#8e5550" opacity="0.28"/><ellipse cx="789.3" cy="304.7" rx="0.7" ry="0.5" fill="#4e1e1c" opacity="0.30"/><ellipse cx="846.7" cy="301.3" rx="1.8" ry="1.2" fill="#a86f69" opacity="0.27"/><ellipse cx="796.7" cy="302.4" rx="2.1" ry="1.5" fill="#b98883" opacity="0.26"/><ellipse cx="744.4" cy="306.4" rx="1.7" ry="1.2" fill="#a86f69" opacity="0.32"/><ellipse cx="853.8" cy="304.4" rx="2.1" ry="1.5" fill="#b98883" opacity="0.49"/><ellipse cx="822.7" cy="299.8" rx="1.9" ry="1.4" fill="#4e1e1c" opacity="0.51"/><ellipse cx="755.5" cy="311.2" rx="1.0" ry="0.7" fill="#c9a09b" opacity="0.30"/><ellipse cx="796.5" cy="311.6" rx="0.9" ry="0.7" fill="#8e5550" opacity="0.47"/><ellipse cx="764.9" cy="302.3" rx="0.9" ry="0.6" fill="#c9a09b" opacity="0.31"/><ellipse cx="848.4" cy="307.6" rx="2.0" ry="1.4" fill="#b98883" opacity="0.53"/><ellipse cx="768.1" cy="309.1" rx="0.7" ry="0.5" fill="#8e5550" opacity="0.59"/><ellipse cx="790.6" cy="304.9" rx="1.7" ry="1.2" fill="#a86f69" opacity="0.34"/><ellipse cx="800.5" cy="310.6" rx="1.8" ry="1.2" fill="#8e5550" opacity="0.34"/><ellipse cx="854.9" cy="305.8" rx="1.2" ry="0.8" fill="#a86f69" opacity="0.40"/><ellipse cx="757.6" cy="308.6" rx="0.7" ry="0.5" fill="#4e1e1c" opacity="0.34"/><ellipse cx="812.9" cy="312.7" rx="1.5" ry="1.1" fill="#4e1e1c" opacity="0.56"/><ellipse cx="824.1" cy="308.7" rx="1.0" ry="0.7" fill="#8e5550" opacity="0.47"/><ellipse cx="788.2" cy="304.7" rx="2.0" ry="1.4" fill="#b98883" opacity="0.42"/><ellipse cx="809.7" cy="296.8" rx="0.7" ry="0.5" fill="#4e1e1c" opacity="0.37"/><ellipse cx="749.2" cy="302.1" rx="1.0" ry="0.7" fill="#4e1e1c" opacity="0.36"/><ellipse cx="752.5" cy="302.2" rx="1.9" ry="1.3" fill="#b98883" opacity="0.30"/><ellipse cx="848.4" cy="300.1" rx="0.8" ry="0.6" fill="#a86f69" opacity="0.27"/><ellipse cx="753.8" cy="307.3" rx="1.0" ry="0.7" fill="#8e5550" opacity="0.59"/><ellipse cx="743.2" cy="310.0" rx="2.0" ry="1.4" fill="#4e1e1c" opacity="0.48"/><ellipse cx="789.5" cy="311.9" rx="1.8" ry="1.2" fill="#b98883" opacity="0.31"/><ellipse cx="736.5" cy="297.0" rx="0.6" ry="0.4" fill="#b98883" opacity="0.33"/><ellipse cx="743.5" cy="309.2" rx="0.6" ry="0.4" fill="#4e1e1c" opacity="0.48"/><ellipse cx="760.1" cy="303.0" rx="1.4" ry="1.0" fill="#4e1e1c" opacity="0.43"/><ellipse cx="813.2" cy="309.8" rx="0.9" ry="0.6" fill="#8e5550" opacity="0.27"/><ellipse cx="811.3" cy="312.9" rx="1.8" ry="1.2" fill="#c9a09b" opacity="0.50"/><ellipse cx="737.3" cy="310.4" rx="1.8" ry="1.3" fill="#c9a09b" opacity="0.28"/><ellipse cx="814.8" cy="299.0" rx="2.2" ry="1.5" fill="#8e5550" opacity="0.33"/><ellipse cx="741.1" cy="301.7" rx="1.8" ry="1.3" fill="#4e1e1c" opacity="0.58"/><ellipse cx="768.0" cy="296.9" rx="1.6" ry="1.1" fill="#4e1e1c" opacity="0.40"/><ellipse cx="830.7" cy="304.9" rx="1.0" ry="0.7" fill="#4e1e1c" opacity="0.57"/><ellipse cx="843.4" cy="297.5" rx="1.4" ry="1.0" fill="#b98883" opacity="0.34"/><ellipse cx="764.7" cy="308.6" rx="2.1" ry="1.5" fill="#4e1e1c" opacity="0.57"/><ellipse cx="759.4" cy="302.6" rx="1.6" ry="1.1" fill="#c9a09b" opacity="0.57"/><ellipse cx="811.9" cy="307.8" rx="1.7" ry="1.2" fill="#4e1e1c" opacity="0.41"/><ellipse cx="836.8" cy="307.9" rx="2.0" ry="1.4" fill="#c9a09b" opacity="0.58"/><ellipse cx="764.4" cy="311.0" rx="1.9" ry="1.3" fill="#c9a09b" opacity="0.47"/><ellipse cx="745.8" cy="311.5" rx="0.8" ry="0.6" fill="#a86f69" opacity="0.29"/><ellipse cx="810.8" cy="298.8" rx="2.2" ry="1.5" fill="#4e1e1c" opacity="0.26"/><ellipse cx="741.5" cy="307.8" rx="1.6" ry="1.1" fill="#4e1e1c" opacity="0.27"/><ellipse cx="742.1" cy="310.6" rx="1.8" ry="1.3" fill="#b98883" opacity="0.54"/><ellipse cx="834.4" cy="311.2" rx="0.7" ry="0.5" fill="#4e1e1c" opacity="0.58"/><ellipse cx="749.3" cy="299.5" rx="0.8" ry="0.5" fill="#a86f69" opacity="0.58"/><ellipse cx="845.4" cy="308.8" rx="0.7" ry="0.5" fill="#4e1e1c" opacity="0.47"/><ellipse cx="793.5" cy="298.3" rx="1.9" ry="1.3" fill="#4e1e1c" opacity="0.32"/><ellipse cx="774.6" cy="303.2" rx="0.6" ry="0.4" fill="#8e5550" opacity="0.58"/><ellipse cx="742.3" cy="308.9" rx="2.1" ry="1.4" fill="#4e1e1c" opacity="0.43"/></g>
<path d="M856,304 L856,296 L862,292 L912,294.5 Q920,295.5 920,303 L920,320 L879,320 L879,304 Z" fill="url(#br)"/>
<path d="M856,296 L862,292 L912,294.5 Q920.5,295.5 920.5,303 L918,303 Q918,297.5 912,297 L862,295 L857,298.5 Z" fill="#e6cbc7"/>
<rect x="856.5" y="304" width="22" height="9" fill="#eee4e4"/>
<clipPath id="m4r"><path d="M856,304 L856,296 L862,292 L912,294.5 Q920,295.5 920,303 L920,320 L879,320 L879,304 Z"/></clipPath><g clip-path="url(#m4r)"><ellipse cx="910.5" cy="309.3" rx="0.6" ry="0.5" fill="#c9a09b" opacity="0.26"/><ellipse cx="889.2" cy="294.8" rx="1.4" ry="0.9" fill="#a86f69" opacity="0.44"/><ellipse cx="869.9" cy="316.1" rx="0.7" ry="0.5" fill="#8e5550" opacity="0.31"/><ellipse cx="856.1" cy="297.7" rx="1.8" ry="1.3" fill="#a86f69" opacity="0.25"/><ellipse cx="887.4" cy="305.8" rx="1.9" ry="1.3" fill="#b98883" opacity="0.59"/><ellipse cx="893.9" cy="318.8" rx="1.4" ry="1.0" fill="#4e1e1c" opacity="0.58"/><ellipse cx="874.2" cy="298.0" rx="1.7" ry="1.2" fill="#c9a09b" opacity="0.31"/><ellipse cx="916.1" cy="313.5" rx="1.4" ry="1.0" fill="#4e1e1c" opacity="0.45"/><ellipse cx="862.7" cy="301.1" rx="0.8" ry="0.5" fill="#c9a09b" opacity="0.56"/><ellipse cx="903.7" cy="303.8" rx="1.6" ry="1.1" fill="#8e5550" opacity="0.32"/><ellipse cx="872.8" cy="317.2" rx="1.4" ry="1.0" fill="#c9a09b" opacity="0.59"/><ellipse cx="896.4" cy="318.4" rx="0.8" ry="0.6" fill="#4e1e1c" opacity="0.51"/><ellipse cx="904.2" cy="310.1" rx="1.2" ry="0.8" fill="#8e5550" opacity="0.43"/><ellipse cx="911.6" cy="304.6" rx="1.5" ry="1.0" fill="#8e5550" opacity="0.31"/><ellipse cx="884.1" cy="313.7" rx="1.5" ry="1.1" fill="#b98883" opacity="0.37"/><ellipse cx="897.1" cy="311.5" rx="1.4" ry="1.0" fill="#8e5550" opacity="0.36"/><ellipse cx="901.0" cy="315.6" rx="0.8" ry="0.6" fill="#b98883" opacity="0.59"/><ellipse cx="902.3" cy="308.9" rx="1.2" ry="0.8" fill="#b98883" opacity="0.36"/><ellipse cx="868.1" cy="319.3" rx="1.8" ry="1.2" fill="#a86f69" opacity="0.31"/><ellipse cx="898.1" cy="297.5" rx="0.8" ry="0.6" fill="#b98883" opacity="0.53"/><ellipse cx="902.9" cy="304.2" rx="0.9" ry="0.6" fill="#4e1e1c" opacity="0.57"/><ellipse cx="874.0" cy="316.8" rx="1.3" ry="0.9" fill="#a86f69" opacity="0.39"/><ellipse cx="906.6" cy="311.4" rx="1.4" ry="1.0" fill="#4e1e1c" opacity="0.35"/><ellipse cx="857.4" cy="299.2" rx="1.8" ry="1.2" fill="#a86f69" opacity="0.51"/><ellipse cx="914.1" cy="304.0" rx="1.5" ry="1.1" fill="#4e1e1c" opacity="0.48"/><ellipse cx="910.1" cy="310.7" rx="1.6" ry="1.2" fill="#4e1e1c" opacity="0.50"/><ellipse cx="910.6" cy="311.0" rx="1.6" ry="1.1" fill="#c9a09b" opacity="0.40"/><ellipse cx="872.6" cy="311.6" rx="2.0" ry="1.4" fill="#b98883" opacity="0.52"/><ellipse cx="901.6" cy="309.6" rx="1.0" ry="0.7" fill="#c9a09b" opacity="0.42"/><ellipse cx="857.3" cy="316.0" rx="1.4" ry="1.0" fill="#4e1e1c" opacity="0.58"/><ellipse cx="867.7" cy="310.3" rx="1.8" ry="1.3" fill="#c9a09b" opacity="0.54"/><ellipse cx="914.1" cy="295.0" rx="1.0" ry="0.7" fill="#b98883" opacity="0.31"/><ellipse cx="906.0" cy="318.3" rx="1.4" ry="1.0" fill="#a86f69" opacity="0.55"/><ellipse cx="885.2" cy="297.7" rx="1.4" ry="1.0" fill="#a86f69" opacity="0.47"/><ellipse cx="909.1" cy="306.6" rx="1.3" ry="0.9" fill="#c9a09b" opacity="0.32"/><ellipse cx="899.8" cy="303.0" rx="1.8" ry="1.3" fill="#a86f69" opacity="0.51"/><ellipse cx="895.3" cy="309.9" rx="1.0" ry="0.7" fill="#c9a09b" opacity="0.39"/><ellipse cx="856.9" cy="303.7" rx="1.3" ry="0.9" fill="#4e1e1c" opacity="0.49"/><ellipse cx="893.1" cy="295.1" rx="1.1" ry="0.8" fill="#c9a09b" opacity="0.58"/><ellipse cx="889.7" cy="298.1" rx="1.9" ry="1.3" fill="#c9a09b" opacity="0.41"/><ellipse cx="866.5" cy="318.0" rx="0.7" ry="0.5" fill="#4e1e1c" opacity="0.32"/><ellipse cx="897.1" cy="312.2" rx="1.9" ry="1.3" fill="#b98883" opacity="0.37"/><ellipse cx="896.9" cy="314.9" rx="1.9" ry="1.3" fill="#c9a09b" opacity="0.60"/><ellipse cx="904.6" cy="310.2" rx="1.8" ry="1.3" fill="#c9a09b" opacity="0.37"/><ellipse cx="910.4" cy="299.5" rx="1.2" ry="0.8" fill="#8e5550" opacity="0.59"/><ellipse cx="899.4" cy="305.5" rx="1.9" ry="1.3" fill="#8e5550" opacity="0.38"/><ellipse cx="897.9" cy="301.0" rx="1.4" ry="1.0" fill="#4e1e1c" opacity="0.47"/><ellipse cx="898.2" cy="302.1" rx="2.1" ry="1.5" fill="#c9a09b" opacity="0.27"/><ellipse cx="909.0" cy="317.4" rx="1.9" ry="1.3" fill="#b98883" opacity="0.44"/><ellipse cx="878.1" cy="308.3" rx="1.7" ry="1.2" fill="#b98883" opacity="0.58"/><ellipse cx="898.0" cy="299.0" rx="0.8" ry="0.5" fill="#b98883" opacity="0.55"/><ellipse cx="867.9" cy="304.7" rx="1.9" ry="1.3" fill="#b98883" opacity="0.57"/><ellipse cx="906.7" cy="296.7" rx="2.0" ry="1.4" fill="#4e1e1c" opacity="0.59"/><ellipse cx="861.8" cy="317.2" rx="1.5" ry="1.0" fill="#4e1e1c" opacity="0.54"/><ellipse cx="868.6" cy="311.4" rx="1.4" ry="1.0" fill="#4e1e1c" opacity="0.54"/><ellipse cx="899.0" cy="295.3" rx="0.8" ry="0.6" fill="#c9a09b" opacity="0.33"/><ellipse cx="864.9" cy="305.8" rx="0.7" ry="0.5" fill="#c9a09b" opacity="0.57"/><ellipse cx="900.8" cy="298.9" rx="0.9" ry="0.6" fill="#4e1e1c" opacity="0.55"/><ellipse cx="856.4" cy="315.5" rx="1.3" ry="0.9" fill="#4e1e1c" opacity="0.42"/></g>
<path d="M736.5,298 Q737,294.5 742,294.5 L815,293.5 Q850,293.5 856,310 L852,311 Q846,299 815,298 L742,298.5 Z" fill="#e8cac6" stroke="#caa19c" stroke-width="0.6"/>
<rect x="766.7" y="300" width="8" height="105" fill="url(#pkd)"/>
<rect x="766.7" y="300" width="2.5" height="105" fill="#ecd0cc"/>
<rect x="781" y="299" width="53" height="106" fill="url(#pk)"/>
<path d="M781,299 L793,299 L793,405 L781,405 Z" fill="#d7aaa5"/>
<path d="M784,330 Q788,360 786,405 L789,405 Q791,360 787,330 Z" fill="#b98985" opacity="0.6"/>
<path d="M792.7,337 L792.7,306 Q793,300.8 799,300.8 L826,300.8 Q831.7,301 831.7,308 L831.7,337 Z" fill="#e6c3bf" stroke="#c89d98" stroke-width="0.7"/>
<rect x="794" y="302" width="8" height="34" fill="#efd5d1" opacity="0.8"/>
<rect x="792.7" y="337" width="39" height="31.4" fill="#6e4c49"/>
<rect x="818.7" y="337" width="9" height="31.4" fill="#d9ada8"/>
<rect x="792.7" y="337" width="39" height="2" fill="#a67c77"/>
<path d="M792.7,368.4 L831.7,368.4 L831.7,405 L792.7,405 Z" fill="#e2bab5" stroke="#c89d98" stroke-width="0.7"/>
<path d="M800,370 Q812,385 805,405 L798,405 Q804,388 794,372 Z" fill="#cf9f9a" opacity="0.55"/>
<rect x="831.7" y="299" width="2.5" height="106" fill="#b88c87"/>
<rect x="879" y="320" width="36" height="95" fill="url(#pkf)"/>
<rect x="913" y="326" width="12" height="87" rx="4" fill="url(#pk)" stroke="#b98a85" stroke-width="0.9"/>
<path d="M733.5,426.5 L911.5,428.5 L909.5,433.5 L735.5,431.5 Z" fill="#9a9090" opacity="0.45" filter="url(#blur2)"/>
<path d="M735.5,407.0 L803.5,406.0 Q821.5,402.0 843.5,410.5 L914.5,414.0 Q921.0,415.5 918.5,420.5 L912.5,429.5 L737.5,427.5 Q729.5,426.0 730.0,417.5 Q731.0,407.5 735.5,407.0 Z" fill="url(#pkv2)" stroke="#a97b76" stroke-width="0.9"/>
<path d="M736.5,408.5 L803.5,407.5 L803.5,410.0 L737.5,411.0 Z" fill="#f3dcd8" opacity="0.8"/>
<path d="M843.5,412.0 L913.5,415.5 L912.5,417.5 L843.5,414.0 Z" fill="#f1d8d4" opacity="0.7"/>
<path d="M802.5,421.5 Q802.5,407.5 819.5,406.5 Q841.5,407.0 847.5,416.5 Q841.5,428.0 819.5,428.5 Q803.5,428.0 802.5,421.5 Z" fill="#e4bfba" stroke="#a87a75" stroke-width="0.8"/>
<ellipse cx="818.8" cy="419.2" rx="7" ry="5.5" fill="#ecd0cc" stroke="#8f625d" stroke-width="1.2"/>
<ellipse cx="818.8" cy="419.7" rx="4" ry="3" fill="#e2bcb7"/>
<circle cx="749.6" cy="416.8" r="2.3" fill="#f3dedb" stroke="#8f645f" stroke-width="1"/>
<circle cx="767.6" cy="415.2" r="2.3" fill="#f3dedb" stroke="#8f645f" stroke-width="1"/>
<circle cx="899.5" cy="421.0" r="2.3" fill="#f3dedb" stroke="#8f645f" stroke-width="1"/>
<clipPath id="cP4"><rect x="670.2" y="242.8" width="301.5" height="213.6" rx="5"/></clipPath><g clip-path="url(#cP4)"><g transform="translate(670,282.8) rotate(28.6)"><rect x="-40" y="-10.1" width="180" height="20.2" fill="url(#sd4)"/><path d="M139,-10.1 L152,-8.5 L165,-3 L167.5,8.5 L150,10.1 L139,10.1 Z" fill="url(#tip4)"/></g></g>
<path d="M858.4,289.2 C862.5,281 862.5,272.5 855,269 C851,267.4 846.5,268.3 843.6,269.8 L840.4,265.6 L832.7,279.2 L847.8,280.7 L846.6,276.3 C851,275.2 855.5,276.8 857,281 Z" fill="#23a6df"/>
<clipPath id="cB21"><rect x="21.5" y="635.0" width="138.5" height="76.5"/></clipPath>
<g clip-path="url(#cB21)">
<rect x="21.5" y="635.0" width="138.5" height="76.5" fill="#5a4749"/>
<rect x="3.0" y="635.0" width="10.0" height="14.2" fill="url(#lk3)"/>
<rect x="15.0" y="635.0" width="10.0" height="14.2" fill="url(#lk3)"/>
<rect x="27.0" y="635.0" width="10.0" height="14.2" fill="url(#lk3)"/>
<rect x="39.0" y="635.0" width="10.0" height="14.2" fill="url(#lk3)"/>
<rect x="51.0" y="635.0" width="10.0" height="14.2" fill="url(#lk3)"/>
<rect x="63.0" y="635.0" width="10.0" height="14.2" fill="url(#lk3)"/>
<rect x="75.0" y="635.0" width="10.0" height="14.2" fill="url(#lk3)"/>
<rect x="87.0" y="635.0" width="10.0" height="14.2" fill="url(#lk3)"/>
<rect x="99.0" y="635.0" width="10.0" height="14.2" fill="url(#lk3)"/>
<rect x="111.0" y="635.0" width="10.0" height="14.2" fill="url(#lk3)"/>
<rect x="123.0" y="635.0" width="10.0" height="14.2" fill="url(#lk3)"/>
<rect x="135.0" y="635.0" width="10.0" height="14.2" fill="url(#lk3)"/>
<rect x="147.0" y="635.0" width="10.0" height="14.2" fill="url(#lk3)"/>
<rect x="159.0" y="635.0" width="10.0" height="14.2" fill="url(#lk3)"/>
<rect x="171.0" y="635.0" width="10.0" height="14.2" fill="url(#lk3)"/>
<rect x="3.0" y="658.0" width="10.0" height="11.2" fill="url(#lk3)"/>
<rect x="15.0" y="658.0" width="10.0" height="11.2" fill="url(#lk3)"/>
<rect x="27.0" y="658.0" width="10.0" height="11.2" fill="url(#lk3)"/>
<rect x="39.0" y="658.0" width="10.0" height="11.2" fill="url(#lk3)"/>
<rect x="51.0" y="658.0" width="10.0" height="11.2" fill="url(#lk3)"/>
<rect x="63.0" y="658.0" width="10.0" height="11.2" fill="url(#lk3)"/>
<rect x="75.0" y="658.0" width="10.0" height="11.2" fill="url(#lk3)"/>
<rect x="87.0" y="658.0" width="10.0" height="11.2" fill="url(#lk3)"/>
<rect x="99.0" y="658.0" width="10.0" height="11.2" fill="url(#lk3)"/>
<rect x="111.0" y="658.0" width="10.0" height="11.2" fill="url(#lk3)"/>
<rect x="123.0" y="658.0" width="10.0" height="11.2" fill="url(#lk3)"/>
<rect x="135.0" y="658.0" width="10.0" height="11.2" fill="url(#lk3)"/>
<rect x="147.0" y="658.0" width="10.0" height="11.2" fill="url(#lk3)"/>
<rect x="159.0" y="658.0" width="10.0" height="11.2" fill="url(#lk3)"/>
<rect x="171.0" y="658.0" width="10.0" height="11.2" fill="url(#lk3)"/>
<rect x="3.0" y="678.0" width="10.0" height="11.7" fill="url(#lk3)"/>
<rect x="15.0" y="678.0" width="10.0" height="11.7" fill="url(#lk3)"/>
<rect x="27.0" y="678.0" width="10.0" height="11.7" fill="url(#lk3)"/>
<rect x="39.0" y="678.0" width="10.0" height="11.7" fill="url(#lk3)"/>
<rect x="51.0" y="678.0" width="10.0" height="11.7" fill="url(#lk3)"/>
<rect x="63.0" y="678.0" width="10.0" height="11.7" fill="url(#lk3)"/>
<rect x="75.0" y="678.0" width="10.0" height="11.7" fill="url(#lk3)"/>
<rect x="87.0" y="678.0" width="10.0" height="11.7" fill="url(#lk3)"/>
<rect x="99.0" y="678.0" width="10.0" height="11.7" fill="url(#lk3)"/>
<rect x="111.0" y="678.0" width="10.0" height="11.7" fill="url(#lk3)"/>
<rect x="123.0" y="678.0" width="10.0" height="11.7" fill="url(#lk3)"/>
<rect x="135.0" y="678.0" width="10.0" height="11.7" fill="url(#lk3)"/>
<rect x="147.0" y="678.0" width="10.0" height="11.7" fill="url(#lk3)"/>
<rect x="159.0" y="678.0" width="10.0" height="11.7" fill="url(#lk3)"/>
<rect x="171.0" y="678.0" width="10.0" height="11.7" fill="url(#lk3)"/>
<rect x="3.0" y="699.0" width="10.0" height="11.7" fill="url(#lk3)"/>
<rect x="15.0" y="699.0" width="10.0" height="11.7" fill="url(#lk3)"/>
<rect x="27.0" y="699.0" width="10.0" height="11.7" fill="url(#lk3)"/>
<rect x="39.0" y="699.0" width="10.0" height="11.7" fill="url(#lk3)"/>
<rect x="51.0" y="699.0" width="10.0" height="11.7" fill="url(#lk3)"/>
<rect x="63.0" y="699.0" width="10.0" height="11.7" fill="url(#lk3)"/>
<rect x="75.0" y="699.0" width="10.0" height="11.7" fill="url(#lk3)"/>
<rect x="87.0" y="699.0" width="10.0" height="11.7" fill="url(#lk3)"/>
<rect x="99.0" y="699.0" width="10.0" height="11.7" fill="url(#lk3)"/>
<rect x="111.0" y="699.0" width="10.0" height="11.7" fill="url(#lk3)"/>
<rect x="123.0" y="699.0" width="10.0" height="11.7" fill="url(#lk3)"/>
<rect x="135.0" y="699.0" width="10.0" height="11.7" fill="url(#lk3)"/>
<rect x="147.0" y="699.0" width="10.0" height="11.7" fill="url(#lk3)"/>
<rect x="159.0" y="699.0" width="10.0" height="11.7" fill="url(#lk3)"/>
<rect x="171.0" y="699.0" width="10.0" height="11.7" fill="url(#lk3)"/>
<rect x="21.5" y="649.7" width="138.5" height="8.3" fill="#9b8a8c"/>
<rect x="2.8" y="651.1" width="10.4" height="5.8" rx="1.2" fill="#fbf8f8"/>
<rect x="14.8" y="651.1" width="10.4" height="5.8" rx="1.2" fill="#fbf8f8"/>
<rect x="26.8" y="651.1" width="10.4" height="5.8" rx="1.2" fill="#fbf8f8"/>
<rect x="38.8" y="651.1" width="10.4" height="5.8" rx="1.2" fill="#fbf8f8"/>
<rect x="50.8" y="651.1" width="10.4" height="5.8" rx="1.2" fill="#fbf8f8"/>
<rect x="62.8" y="651.1" width="10.4" height="5.8" rx="1.2" fill="#fbf8f8"/>
<rect x="74.8" y="651.1" width="10.4" height="5.8" rx="1.2" fill="#fbf8f8"/>
<rect x="86.8" y="651.1" width="10.4" height="5.8" rx="1.2" fill="#fbf8f8"/>
<rect x="98.8" y="651.1" width="10.4" height="5.8" rx="1.2" fill="#fbf8f8"/>
<rect x="110.8" y="651.1" width="10.4" height="5.8" rx="1.2" fill="#fbf8f8"/>
<rect x="122.8" y="651.1" width="10.4" height="5.8" rx="1.2" fill="#fbf8f8"/>
<rect x="134.8" y="651.1" width="10.4" height="5.8" rx="1.2" fill="#fbf8f8"/>
<rect x="146.8" y="651.1" width="10.4" height="5.8" rx="1.2" fill="#fbf8f8"/>
<rect x="158.8" y="651.1" width="10.4" height="5.8" rx="1.2" fill="#fbf8f8"/>
<rect x="170.8" y="651.1" width="10.4" height="5.8" rx="1.2" fill="#fbf8f8"/>
<rect x="21.5" y="669.7" width="138.5" height="8.3" fill="#9b8a8c"/>
<rect x="2.8" y="671.1" width="10.4" height="5.8" rx="1.2" fill="#fbf8f8"/>
<rect x="14.8" y="671.1" width="10.4" height="5.8" rx="1.2" fill="#fbf8f8"/>
<rect x="26.8" y="671.1" width="10.4" height="5.8" rx="1.2" fill="#fbf8f8"/>
<rect x="38.8" y="671.1" width="10.4" height="5.8" rx="1.2" fill="#fbf8f8"/>
<rect x="50.8" y="671.1" width="10.4" height="5.8" rx="1.2" fill="#fbf8f8"/>
<rect x="62.8" y="671.1" width="10.4" height="5.8" rx="1.2" fill="#fbf8f8"/>
<rect x="74.8" y="671.1" width="10.4" height="5.8" rx="1.2" fill="#fbf8f8"/>
<rect x="86.8" y="671.1" width="10.4" height="5.8" rx="1.2" fill="#fbf8f8"/>
<rect x="98.8" y="671.1" width="10.4" height="5.8" rx="1.2" fill="#fbf8f8"/>
<rect x="110.8" y="671.1" width="10.4" height="5.8" rx="1.2" fill="#fbf8f8"/>
<rect x="122.8" y="671.1" width="10.4" height="5.8" rx="1.2" fill="#fbf8f8"/>
<rect x="134.8" y="671.1" width="10.4" height="5.8" rx="1.2" fill="#fbf8f8"/>
<rect x="146.8" y="671.1" width="10.4" height="5.8" rx="1.2" fill="#fbf8f8"/>
<rect x="158.8" y="671.1" width="10.4" height="5.8" rx="1.2" fill="#fbf8f8"/>
<rect x="170.8" y="671.1" width="10.4" height="5.8" rx="1.2" fill="#fbf8f8"/>
<rect x="21.5" y="690.2" width="138.5" height="8.8" fill="#9b8a8c"/>
<rect x="2.8" y="691.6" width="10.4" height="6.3" rx="1.2" fill="#fbf8f8"/>
<rect x="14.8" y="691.6" width="10.4" height="6.3" rx="1.2" fill="#fbf8f8"/>
<rect x="26.8" y="691.6" width="10.4" height="6.3" rx="1.2" fill="#fbf8f8"/>
<rect x="38.8" y="691.6" width="10.4" height="6.3" rx="1.2" fill="#fbf8f8"/>
<rect x="50.8" y="691.6" width="10.4" height="6.3" rx="1.2" fill="#fbf8f8"/>
<rect x="62.8" y="691.6" width="10.4" height="6.3" rx="1.2" fill="#fbf8f8"/>
<rect x="74.8" y="691.6" width="10.4" height="6.3" rx="1.2" fill="#fbf8f8"/>
<rect x="86.8" y="691.6" width="10.4" height="6.3" rx="1.2" fill="#fbf8f8"/>
<rect x="98.8" y="691.6" width="10.4" height="6.3" rx="1.2" fill="#fbf8f8"/>
<rect x="110.8" y="691.6" width="10.4" height="6.3" rx="1.2" fill="#fbf8f8"/>
<rect x="122.8" y="691.6" width="10.4" height="6.3" rx="1.2" fill="#fbf8f8"/>
<rect x="134.8" y="691.6" width="10.4" height="6.3" rx="1.2" fill="#fbf8f8"/>
<rect x="146.8" y="691.6" width="10.4" height="6.3" rx="1.2" fill="#fbf8f8"/>
<rect x="158.8" y="691.6" width="10.4" height="6.3" rx="1.2" fill="#fbf8f8"/>
<rect x="170.8" y="691.6" width="10.4" height="6.3" rx="1.2" fill="#fbf8f8"/>
</g>
<clipPath id="cB228"><rect x="228.0" y="631.5" width="95.0" height="78.0"/></clipPath>
<g clip-path="url(#cB228)">
<rect x="228.0" y="631.5" width="95.0" height="78.0" fill="#5a4749"/>
<rect x="217.0" y="631.5" width="10.0" height="14.2" fill="url(#lk3)"/>
<rect x="229.0" y="631.5" width="10.0" height="14.2" fill="url(#lk3)"/>
<rect x="241.0" y="631.5" width="10.0" height="14.2" fill="url(#lk3)"/>
<rect x="253.0" y="631.5" width="10.0" height="14.2" fill="url(#lk3)"/>
<rect x="265.0" y="631.5" width="10.0" height="14.2" fill="url(#lk3)"/>
<rect x="277.0" y="631.5" width="10.0" height="14.2" fill="url(#lk3)"/>
<rect x="289.0" y="631.5" width="10.0" height="14.2" fill="url(#lk3)"/>
<rect x="301.0" y="631.5" width="10.0" height="14.2" fill="url(#lk3)"/>
<rect x="313.0" y="631.5" width="10.0" height="14.2" fill="url(#lk3)"/>
<rect x="325.0" y="631.5" width="10.0" height="14.2" fill="url(#lk3)"/>
<rect x="217.0" y="654.5" width="10.0" height="11.2" fill="url(#lk3)"/>
<rect x="229.0" y="654.5" width="10.0" height="11.2" fill="url(#lk3)"/>
<rect x="241.0" y="654.5" width="10.0" height="11.2" fill="url(#lk3)"/>
<rect x="253.0" y="654.5" width="10.0" height="11.2" fill="url(#lk3)"/>
<rect x="265.0" y="654.5" width="10.0" height="11.2" fill="url(#lk3)"/>
<rect x="277.0" y="654.5" width="10.0" height="11.2" fill="url(#lk3)"/>
<rect x="289.0" y="654.5" width="10.0" height="11.2" fill="url(#lk3)"/>
<rect x="301.0" y="654.5" width="10.0" height="11.2" fill="url(#lk3)"/>
<rect x="313.0" y="654.5" width="10.0" height="11.2" fill="url(#lk3)"/>
<rect x="325.0" y="654.5" width="10.0" height="11.2" fill="url(#lk3)"/>
<rect x="217.0" y="674.5" width="10.0" height="11.7" fill="url(#lk3)"/>
<rect x="229.0" y="674.5" width="10.0" height="11.7" fill="url(#lk3)"/>
<rect x="241.0" y="674.5" width="10.0" height="11.7" fill="url(#lk3)"/>
<rect x="253.0" y="674.5" width="10.0" height="11.7" fill="url(#lk3)"/>
<rect x="265.0" y="674.5" width="10.0" height="11.7" fill="url(#lk3)"/>
<rect x="277.0" y="674.5" width="10.0" height="11.7" fill="url(#lk3)"/>
<rect x="289.0" y="674.5" width="10.0" height="11.7" fill="url(#lk3)"/>
<rect x="301.0" y="674.5" width="10.0" height="11.7" fill="url(#lk3)"/>
<rect x="313.0" y="674.5" width="10.0" height="11.7" fill="url(#lk3)"/>
<rect x="325.0" y="674.5" width="10.0" height="11.7" fill="url(#lk3)"/>
<rect x="217.0" y="695.5" width="10.0" height="13.2" fill="url(#lk3)"/>
<rect x="229.0" y="695.5" width="10.0" height="13.2" fill="url(#lk3)"/>
<rect x="241.0" y="695.5" width="10.0" height="13.2" fill="url(#lk3)"/>
<rect x="253.0" y="695.5" width="10.0" height="13.2" fill="url(#lk3)"/>
<rect x="265.0" y="695.5" width="10.0" height="13.2" fill="url(#lk3)"/>
<rect x="277.0" y="695.5" width="10.0" height="13.2" fill="url(#lk3)"/>
<rect x="289.0" y="695.5" width="10.0" height="13.2" fill="url(#lk3)"/>
<rect x="301.0" y="695.5" width="10.0" height="13.2" fill="url(#lk3)"/>
<rect x="313.0" y="695.5" width="10.0" height="13.2" fill="url(#lk3)"/>
<rect x="325.0" y="695.5" width="10.0" height="13.2" fill="url(#lk3)"/>
<rect x="228.0" y="646.2" width="95.0" height="8.3" fill="#9b8a8c"/>
<rect x="216.8" y="647.6" width="10.4" height="5.8" rx="1.2" fill="#fbf8f8"/>
<rect x="228.8" y="647.6" width="10.4" height="5.8" rx="1.2" fill="#fbf8f8"/>
<rect x="240.8" y="647.6" width="10.4" height="5.8" rx="1.2" fill="#fbf8f8"/>
<rect x="252.8" y="647.6" width="10.4" height="5.8" rx="1.2" fill="#fbf8f8"/>
<rect x="264.8" y="647.6" width="10.4" height="5.8" rx="1.2" fill="#fbf8f8"/>
<rect x="276.8" y="647.6" width="10.4" height="5.8" rx="1.2" fill="#fbf8f8"/>
<rect x="288.8" y="647.6" width="10.4" height="5.8" rx="1.2" fill="#fbf8f8"/>
<rect x="300.8" y="647.6" width="10.4" height="5.8" rx="1.2" fill="#fbf8f8"/>
<rect x="312.8" y="647.6" width="10.4" height="5.8" rx="1.2" fill="#fbf8f8"/>
<rect x="324.8" y="647.6" width="10.4" height="5.8" rx="1.2" fill="#fbf8f8"/>
<rect x="228.0" y="666.2" width="95.0" height="8.3" fill="#9b8a8c"/>
<rect x="216.8" y="667.6" width="10.4" height="5.8" rx="1.2" fill="#fbf8f8"/>
<rect x="228.8" y="667.6" width="10.4" height="5.8" rx="1.2" fill="#fbf8f8"/>
<rect x="240.8" y="667.6" width="10.4" height="5.8" rx="1.2" fill="#fbf8f8"/>
<rect x="252.8" y="667.6" width="10.4" height="5.8" rx="1.2" fill="#fbf8f8"/>
<rect x="264.8" y="667.6" width="10.4" height="5.8" rx="1.2" fill="#fbf8f8"/>
<rect x="276.8" y="667.6" width="10.4" height="5.8" rx="1.2" fill="#fbf8f8"/>
<rect x="288.8" y="667.6" width="10.4" height="5.8" rx="1.2" fill="#fbf8f8"/>
<rect x="300.8" y="667.6" width="10.4" height="5.8" rx="1.2" fill="#fbf8f8"/>
<rect x="312.8" y="667.6" width="10.4" height="5.8" rx="1.2" fill="#fbf8f8"/>
<rect x="324.8" y="667.6" width="10.4" height="5.8" rx="1.2" fill="#fbf8f8"/>
<rect x="228.0" y="686.7" width="95.0" height="8.8" fill="#9b8a8c"/>
<rect x="216.8" y="688.1" width="10.4" height="6.3" rx="1.2" fill="#fbf8f8"/>
<rect x="228.8" y="688.1" width="10.4" height="6.3" rx="1.2" fill="#fbf8f8"/>
<rect x="240.8" y="688.1" width="10.4" height="6.3" rx="1.2" fill="#fbf8f8"/>
<rect x="252.8" y="688.1" width="10.4" height="6.3" rx="1.2" fill="#fbf8f8"/>
<rect x="264.8" y="688.1" width="10.4" height="6.3" rx="1.2" fill="#fbf8f8"/>
<rect x="276.8" y="688.1" width="10.4" height="6.3" rx="1.2" fill="#fbf8f8"/>
<rect x="288.8" y="688.1" width="10.4" height="6.3" rx="1.2" fill="#fbf8f8"/>
<rect x="300.8" y="688.1" width="10.4" height="6.3" rx="1.2" fill="#fbf8f8"/>
<rect x="312.8" y="688.1" width="10.4" height="6.3" rx="1.2" fill="#fbf8f8"/>
<rect x="324.8" y="688.1" width="10.4" height="6.3" rx="1.2" fill="#fbf8f8"/>
</g>
<rect x="21.5" y="711.5" width="138" height="4" fill="url(#shd)"/><rect x="228" y="709.5" width="95" height="4" fill="url(#shd)"/>
<path d="M136.5,709 Q136.5,707.5 139,707.5 L241,707.5 L241,715.5 L139,715.5 Q136.5,715.5 136.5,713 Z" fill="#7d4b46"/>
<rect x="138" y="708" width="102" height="1.5" fill="#a87c77"/>
<rect x="241" y="711" width="22" height="5" fill="#f3ecec"/>
<path d="M199,714.5 Q199,712.7 202,712.7 L292,712.7 Q295,712.7 295,716 Q295,719.5 292,719.5 L202,719.5 Q199,719.5 199,717 Z" fill="#6e3c37"/>
<rect x="200" y="713" width="40" height="1.4" fill="#a07570"/>
<path d="M136.5,634 L136.5,632 Q136.5,629.3 140,629.3 L289.4,629.3 L289.4,633.7 Z" fill="#9a726e"/>
<rect x="139" y="630.8" width="149" height="1.6" fill="#cfb0ac"/>
<rect x="160.7" y="630.4" width="67" height="77" fill="#ecc9c6"/>
<rect x="161" y="631" width="66" height="3" fill="#f3dad7"/>
<rect x="223" y="630.4" width="4.7" height="77" fill="#e0bbb7"/>
<rect x="208.5" y="634" width="5.5" height="8" fill="#f5e2e0" stroke="#8a6662" stroke-width="1"/><rect x="210" y="635.5" width="2.5" height="5" fill="#5e4240"/>
<rect x="208.5" y="695" width="5.5" height="8" fill="#f5e2e0" stroke="#8a6662" stroke-width="1"/><rect x="210" y="696.5" width="2.5" height="5" fill="#5e4240"/>
<rect x="157.4" y="630" width="4.8" height="78" fill="#e0101a"/>
<text transform="translate(189.5,669.8) rotate(90) scale(0.68,1)" text-anchor="middle" font-family="Liberation Sans" font-size="14" fill="#c29d99">STAINLESS</text>
<text transform="translate(176.5,668.9) rotate(90) scale(0.64,1)" text-anchor="middle" font-family="Liberation Sans" font-size="13" fill="#c29d99">STEEL</text>
<path d="M152.6,568.8 L163.6,568.8 L163.6,597.4 L169.5,597.4 L158,625 L146.4,597.4 L152.6,597.4 Z" fill="#e0101a"/>
<path d="M152.6,775.6 L163.6,775.6 L163.6,751.4 L169.5,751.4 L158,724 L146.4,751.4 L152.6,751.4 Z" fill="#e0101a"/>
<rect x="27.5" y="245.5" width="21.4" height="20.5" rx="3.2" fill="#22a5df"/><path d="M36.9,248.7 L40.1,248.7 L40.1,263.9 L36.9,263.9 L36.9,253.3 Q35.0,254.7 33.2,255.3 L33.2,252.3 Q35.8,251.3 36.9,248.7 Z" fill="#fff"/>
<rect x="357.6" y="246.6" width="21.0" height="21.3" rx="3.2" fill="#22a5df"/><text x="368.1" y="265.4" text-anchor="middle" font-family="Liberation Sans" font-weight="bold" font-size="22" fill="#fff">2</text>
<rect x="677.5" y="245.6" width="21.1" height="20.7" rx="3.2" fill="#22a5df"/><text x="688.0" y="263.9" text-anchor="middle" font-family="Liberation Sans" font-weight="bold" font-size="22" fill="#fff">4</text>
<rect x="31.9" y="566.2" width="21.0" height="21.0" rx="3.2" fill="#22a5df"/><text x="42.4" y="584.8" text-anchor="middle" font-family="Liberation Sans" font-weight="bold" font-size="22" fill="#fff">3</text>
<g fill="none" stroke="#8d8d8d" stroke-width="1.6">
<rect x="20.8" y="242.8" width="303" height="215.2" rx="6"/>
<rect x="344.8" y="242" width="303" height="215.2" rx="6"/>
<rect x="669.4" y="242" width="303" height="215.2" rx="6"/>
<rect x="20.8" y="560.8" width="303" height="215" rx="6"/>
</g></svg>
<div class="title">TO ADJUST THE BAND</div>
<div class="t" style="left:25px;top:470.3px;letter-spacing:1.133px">1.Lift the bar in the direction</div>
<div class="t" style="left:42px;top:490.3px;letter-spacing:1.152px">facing away from the straight pin.</div>
<div class="t" style="left:352px;top:470.3px;letter-spacing:1.156px">2. Shift the adjustable buckle to</div>
<div class="t" style="left:370px;top:490.3px;letter-spacing:1.2px">the desired position.</div>
<div class="t" style="left:669px;top:470.3px;letter-spacing:1.188px">4.Press the slotted clasp closed.</div>
<div class="t" style="left:336.7px;top:561.7px;letter-spacing:1.115px">3.It&#39;s hard to close the clasp if it&#39;s not seated in an indentation. Be sure to</div>
<div class="t" style="left:336.7px;top:581.7px;letter-spacing:1.135px">align the marked edge at the back of clasp with an indentation thus you can</div>
<div class="t" style="left:336.7px;top:601.7px;letter-spacing:1.147px">easily make the clasp seat in an indentation.Verify that the clasp is seated</div>
<div class="t" style="left:336.7px;top:621.7px;letter-spacing:1.145px">in an indentation by applying light pressure to the clasp while attempting to</div>
<div class="t" style="left:336.7px;top:641.7px;letter-spacing:1.107px">pull the bracelet through. If there is excessive play in the clasp it is not</div>
<div class="t" style="left:336.7px;top:661.7px;letter-spacing:1.141px">seated in an indentation. Once the clasp is seated properly in an</div>
<div class="t" style="left:336.7px;top:681.7px;letter-spacing:1.207px">indentation it shouldn&#39;t move.</div>
</body></html>
